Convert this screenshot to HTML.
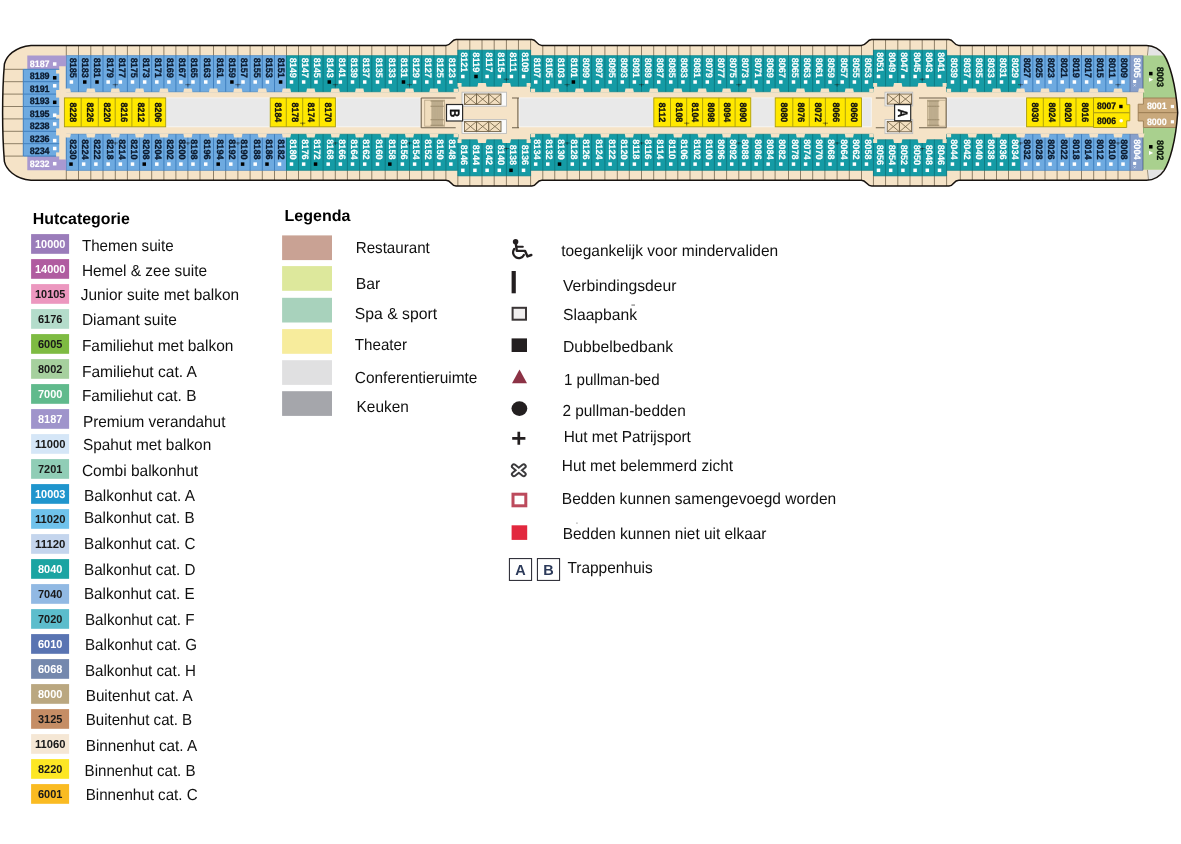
<!DOCTYPE html>
<html lang="nl">
<head>
<meta charset="utf-8">
<title>Dekplan 8 - Hutcategorie en Legenda</title>
<style>
html,body{margin:0;padding:0;background:#FFFFFF;}
body{width:1181px;height:844px;overflow:hidden;font-family:"Liberation Sans", sans-serif;}
svg{display:block;}
text{white-space:pre;text-rendering:geometricPrecision;}
</style>
</head>
<body>
<svg width="1181" height="844" viewBox="0 0 1181 844">
<rect width="1181" height="844" fill="#FFFFFF"/>
<defs><filter id="soft" x="-2%" y="-10%" width="104%" height="120%" color-interpolation-filters="sRGB"><feGaussianBlur stdDeviation="0.45"/></filter></defs>
<g id="deck" filter="url(#soft)">
<defs><clipPath id="hc"><path d="M31,45.4 L446.0,45.4 C451.5,45.4 451.0,39.6 456.0,39.6 L531.9,39.6 C536.9,39.6 536.3,45.4 541.8,45.4 L861.2,45.4 C866.7,45.4 866.7,39.6 871.7,39.6 L949.0,39.6 C954.0,39.6 953.3,45.4 958.8,45.4 L1146.5,45.4 C1154,45.6 1160,49.2 1164,55 C1169.5,63.5 1175.8,84 1177.7,112.7 C1175.8,141.5 1169.5,162 1164,170.6 C1160,176.4 1154,180 1146.5,180.3 L958.8,180.3 C953.3,180.3 954.0,186.1 949.0,186.1 L871.7,186.1 C866.7,186.1 866.7,180.3 861.2,180.3 L541.8,180.3 C536.3,180.3 536.9,186.1 531.9,186.1 L456.0,186.1 C451.0,186.1 451.5,180.3 446.0,180.3 L31,180.3 C14.6,178.9 6.2,169.1 4.4,161.6 C3.2,147 2.6,128 2.6,112.7 C2.6,97 3.2,78 4.4,64 C6.2,56.5 14.6,46.8 31,45.4 Z"/></clipPath></defs>
<g clip-path="url(#hc)">
<path d="M31,45.4 L446.0,45.4 C451.5,45.4 451.0,39.6 456.0,39.6 L531.9,39.6 C536.9,39.6 536.3,45.4 541.8,45.4 L861.2,45.4 C866.7,45.4 866.7,39.6 871.7,39.6 L949.0,39.6 C954.0,39.6 953.3,45.4 958.8,45.4 L1146.5,45.4 C1154,45.6 1160,49.2 1164,55 C1169.5,63.5 1175.8,84 1177.7,112.7 C1175.8,141.5 1169.5,162 1164,170.6 C1160,176.4 1154,180 1146.5,180.3 L958.8,180.3 C953.3,180.3 954.0,186.1 949.0,186.1 L871.7,186.1 C866.7,186.1 866.7,180.3 861.2,180.3 L541.8,180.3 C536.3,180.3 536.9,186.1 531.9,186.1 L456.0,186.1 C451.0,186.1 451.5,180.3 446.0,180.3 L31,180.3 C14.6,178.9 6.2,169.1 4.4,161.6 C3.2,147 2.6,128 2.6,112.7 C2.6,97 3.2,78 4.4,64 C6.2,56.5 14.6,46.8 31,45.4 Z" fill="#F5E3C7"/>
<rect x="1147.5" y="40" width="40" height="16" fill="#E4E4E4"/>
<rect x="1147.5" y="169.6" width="40" height="16" fill="#E4E4E4"/>
<rect x="1143.5" y="55.5" width="40" height="42.5" fill="#A9D08E"/>
<rect x="1143.5" y="127.5" width="40" height="42.2" fill="#A9D08E"/>
<path d="M1143.4,98 H1185 V112.7 H1138.2 V104.2 H1143.4 Z" fill="#C9A97C" stroke="#9A7C52" stroke-width="0.9"/>
<path d="M1138.2,112.7 H1185 V127.5 H1143.4 V121 H1138.2 Z" fill="#C9A97C" stroke="#9A7C52" stroke-width="0.9"/>
<path d="M1143.5,55.5 V98 M1143.5,127.5 V169.7" stroke="#7FA86A" stroke-width="0.8" fill="none"/>
<path d="M1148.6,45 L1147.4,55.5 M1148.6,180.5 L1147.4,169.9" stroke="#8E7F66" stroke-width="0.8" fill="none"/>
<path d="M66.30,45.4 V55.9 M66.30,170.1 V180.3 M78.50,45.4 V55.9 M78.50,170.1 V180.3 M90.80,45.4 V55.9 M90.80,170.1 V180.3 M103.00,45.4 V55.9 M103.00,170.1 V180.3 M115.30,45.4 V55.9 M115.30,170.1 V180.3 M127.40,45.4 V55.9 M127.40,170.1 V180.3 M139.60,45.4 V55.9 M139.60,170.1 V180.3 M151.70,45.4 V55.9 M151.70,170.1 V180.3 M163.90,45.4 V55.9 M163.90,170.1 V180.3 M175.90,45.4 V55.9 M175.90,170.1 V180.3 M187.90,45.4 V55.9 M187.90,170.1 V180.3 M200.00,45.4 V55.9 M200.00,170.1 V180.3 M213.50,45.4 V55.9 M213.50,170.1 V180.3 M225.70,45.4 V55.9 M225.70,170.1 V180.3 M237.90,45.4 V55.9 M237.90,170.1 V180.3 M250.10,45.4 V55.9 M250.10,170.1 V180.3 M262.30,45.4 V55.9 M262.30,170.1 V180.3 M274.50,45.4 V55.9 M274.50,170.1 V180.3 M286.50,45.4 V55.9 M286.50,170.1 V180.3 M298.50,45.4 V55.9 M298.50,170.1 V180.3 M310.80,45.4 V55.9 M310.80,170.1 V180.3 M323.10,45.4 V55.9 M323.10,170.1 V180.3 M335.30,45.4 V55.9 M335.30,170.1 V180.3 M347.40,45.4 V55.9 M347.40,170.1 V180.3 M359.60,45.4 V55.9 M359.60,170.1 V180.3 M371.80,45.4 V55.9 M371.80,170.1 V180.3 M385.20,45.4 V55.9 M385.20,170.1 V180.3 M397.25,45.4 V55.9 M397.25,170.1 V180.3 M409.50,45.4 V55.9 M409.50,170.1 V180.3 M421.70,45.4 V55.9 M421.70,170.1 V180.3 M433.90,45.4 V55.9 M433.90,170.1 V180.3 M445.90,45.4 V55.9 M445.90,170.1 V180.3 M457.85,39.6 V50.4 M457.85,175.6 V186.1 M469.80,39.6 V50.4 M469.80,175.6 V186.1 M482.00,39.6 V50.4 M482.00,175.6 V186.1 M494.20,39.6 V50.4 M494.20,175.6 V186.1 M506.40,39.6 V50.4 M506.40,175.6 V186.1 M518.45,39.6 V50.4 M518.45,175.6 V186.1 M530.60,39.6 V50.4 M530.60,175.6 V186.1 M542.80,45.4 V55.9 M542.80,170.1 V180.3 M554.75,45.4 V55.9 M554.75,170.1 V180.3 M567.10,45.4 V55.9 M567.10,170.1 V180.3 M579.50,45.4 V55.9 M579.50,170.1 V180.3 M591.70,45.4 V55.9 M591.70,170.1 V180.3 M604.90,45.4 V55.9 M604.90,170.1 V180.3 M617.30,45.4 V55.9 M617.30,170.1 V180.3 M629.30,45.4 V55.9 M629.30,170.1 V180.3 M641.50,45.4 V55.9 M641.50,170.1 V180.3 M653.70,45.4 V55.9 M653.70,170.1 V180.3 M665.75,45.4 V55.9 M665.75,170.1 V180.3 M677.80,45.4 V55.9 M677.80,170.1 V180.3 M690.00,45.4 V55.9 M690.00,170.1 V180.3 M702.20,45.4 V55.9 M702.20,170.1 V180.3 M714.40,45.4 V55.9 M714.40,170.1 V180.3 M726.60,45.4 V55.9 M726.60,170.1 V180.3 M738.80,45.4 V55.9 M738.80,170.1 V180.3 M751.00,45.4 V55.9 M751.00,170.1 V180.3 M763.20,45.4 V55.9 M763.20,170.1 V180.3 M775.10,45.4 V55.9 M775.10,170.1 V180.3 M788.50,45.4 V55.9 M788.50,170.1 V180.3 M800.50,45.4 V55.9 M800.50,170.1 V180.3 M812.70,45.4 V55.9 M812.70,170.1 V180.3 M824.90,45.4 V55.9 M824.90,170.1 V180.3 M837.10,45.4 V55.9 M837.10,170.1 V180.3 M849.30,45.4 V55.9 M849.30,170.1 V180.3 M861.50,45.4 V55.9 M861.50,170.1 V180.3 M873.45,39.6 V50.4 M873.45,175.6 V186.1 M885.55,39.6 V50.4 M885.55,175.6 V186.1 M897.80,39.6 V50.4 M897.80,175.6 V186.1 M910.00,39.6 V50.4 M910.00,175.6 V186.1 M922.20,39.6 V50.4 M922.20,175.6 V186.1 M934.40,39.6 V50.4 M934.40,175.6 V186.1 M946.60,39.6 V50.4 M946.60,175.6 V186.1 M960.30,45.4 V55.9 M960.30,170.1 V180.3 M972.30,45.4 V55.9 M972.30,170.1 V180.3 M984.50,45.4 V55.9 M984.50,170.1 V180.3 M996.50,45.4 V55.9 M996.50,170.1 V180.3 M1008.50,45.4 V55.9 M1008.50,170.1 V180.3 M1020.60,45.4 V55.9 M1020.60,170.1 V180.3 M1032.80,45.4 V55.9 M1032.80,170.1 V180.3 M1045.00,45.4 V55.9 M1045.00,170.1 V180.3 M1057.10,45.4 V55.9 M1057.10,170.1 V180.3 M1069.30,45.4 V55.9 M1069.30,170.1 V180.3 M1081.50,45.4 V55.9 M1081.50,170.1 V180.3 M1093.70,45.4 V55.9 M1093.70,170.1 V180.3 M1105.80,45.4 V55.9 M1105.80,170.1 V180.3 M1118.00,45.4 V55.9 M1118.00,170.1 V180.3 M1130.00,45.4 V55.9 M1130.00,170.1 V180.3" stroke="#8E7F66" stroke-width="1" fill="none"/>
<path d="M2,69.3 H23.3 M2,81.7 H23.3 M2,94.1 H23.3 M2,106.5 H23.3 M2,118.9 H23.3 M2,131.3 H23.3 M2,143.7 H23.3 M2,156.1 H23.3" stroke="#8E7F66" stroke-width="1" fill="none"/>
<rect x="66.30" y="55.6" width="220.20" height="36.2" fill="#6EAAE0"/>
<rect x="286.50" y="55.6" width="171.35" height="36.2" fill="#159BA5"/>
<rect x="457.85" y="50.1" width="72.75" height="36.2" fill="#159BA5"/>
<rect x="530.60" y="55.6" width="342.85" height="36.2" fill="#159BA5"/>
<rect x="873.45" y="50.1" width="73.15" height="36.2" fill="#159BA5"/>
<rect x="946.60" y="55.6" width="74.00" height="36.2" fill="#159BA5"/>
<rect x="1020.60" y="55.6" width="109.40" height="36.2" fill="#6EAAE0"/>
<rect x="1130.00" y="55.6" width="12.70" height="36.2" fill="#879FCB"/>
<rect x="66.30" y="134.2" width="220.20" height="36.2" fill="#6EAAE0"/>
<rect x="286.50" y="134.2" width="171.35" height="36.2" fill="#159BA5"/>
<rect x="457.85" y="139.7" width="72.75" height="36.2" fill="#159BA5"/>
<rect x="530.60" y="134.2" width="342.85" height="36.2" fill="#159BA5"/>
<rect x="873.45" y="139.7" width="73.15" height="36.2" fill="#159BA5"/>
<rect x="946.60" y="134.2" width="74.00" height="36.2" fill="#159BA5"/>
<rect x="1020.60" y="134.2" width="109.40" height="36.2" fill="#6EAAE0"/>
<rect x="1130.00" y="134.2" width="12.70" height="36.2" fill="#879FCB"/>
<path d="M66.30,55.6 V91.8 M66.30,134.2 V170.4 M78.50,55.6 V91.8 M78.50,134.2 V170.4 M90.80,55.6 V91.8 M90.80,134.2 V170.4 M103.00,55.6 V91.8 M103.00,134.2 V170.4 M115.30,55.6 V91.8 M115.30,134.2 V170.4 M127.40,55.6 V91.8 M127.40,134.2 V170.4 M139.60,55.6 V91.8 M139.60,134.2 V170.4 M151.70,55.6 V91.8 M151.70,134.2 V170.4 M163.90,55.6 V91.8 M163.90,134.2 V170.4 M175.90,55.6 V91.8 M175.90,134.2 V170.4 M187.90,55.6 V91.8 M187.90,134.2 V170.4 M200.00,55.6 V91.8 M200.00,134.2 V170.4 M213.50,55.6 V91.8 M213.50,134.2 V170.4 M225.70,55.6 V91.8 M225.70,134.2 V170.4 M237.90,55.6 V91.8 M237.90,134.2 V170.4 M250.10,55.6 V91.8 M250.10,134.2 V170.4 M262.30,55.6 V91.8 M262.30,134.2 V170.4 M274.50,55.6 V91.8 M274.50,134.2 V170.4 M1020.60,55.6 V91.8 M1020.60,134.2 V170.4 M1032.80,55.6 V91.8 M1032.80,134.2 V170.4 M1045.00,55.6 V91.8 M1045.00,134.2 V170.4 M1057.10,55.6 V91.8 M1057.10,134.2 V170.4 M1069.30,55.6 V91.8 M1069.30,134.2 V170.4 M1081.50,55.6 V91.8 M1081.50,134.2 V170.4 M1093.70,55.6 V91.8 M1093.70,134.2 V170.4 M1105.80,55.6 V91.8 M1105.80,134.2 V170.4 M1118.00,55.6 V91.8 M1118.00,134.2 V170.4" stroke="#3F7FBE" stroke-width="1" fill="none"/>
<path d="M286.50,55.6 V91.8 M286.50,134.2 V170.4 M298.50,55.6 V91.8 M298.50,134.2 V170.4 M310.80,55.6 V91.8 M310.80,134.2 V170.4 M323.10,55.6 V91.8 M323.10,134.2 V170.4 M335.30,55.6 V91.8 M335.30,134.2 V170.4 M347.40,55.6 V91.8 M347.40,134.2 V170.4 M359.60,55.6 V91.8 M359.60,134.2 V170.4 M371.80,55.6 V91.8 M371.80,134.2 V170.4 M385.20,55.6 V91.8 M385.20,134.2 V170.4 M397.25,55.6 V91.8 M397.25,134.2 V170.4 M409.50,55.6 V91.8 M409.50,134.2 V170.4 M421.70,55.6 V91.8 M421.70,134.2 V170.4 M433.90,55.6 V91.8 M433.90,134.2 V170.4 M445.90,55.6 V91.8 M445.90,134.2 V170.4 M457.85,50.1 V91.8 M457.85,134.2 V175.9 M469.80,50.1 V86.3 M469.80,139.7 V175.9 M482.00,50.1 V86.3 M482.00,139.7 V175.9 M494.20,50.1 V86.3 M494.20,139.7 V175.9 M506.40,50.1 V86.3 M506.40,139.7 V175.9 M518.45,50.1 V86.3 M518.45,139.7 V175.9 M530.60,50.1 V91.8 M530.60,134.2 V175.9 M542.80,55.6 V91.8 M542.80,134.2 V170.4 M554.75,55.6 V91.8 M554.75,134.2 V170.4 M567.10,55.6 V91.8 M567.10,134.2 V170.4 M579.50,55.6 V91.8 M579.50,134.2 V170.4 M591.70,55.6 V91.8 M591.70,134.2 V170.4 M604.90,55.6 V91.8 M604.90,134.2 V170.4 M617.30,55.6 V91.8 M617.30,134.2 V170.4 M629.30,55.6 V91.8 M629.30,134.2 V170.4 M641.50,55.6 V91.8 M641.50,134.2 V170.4 M653.70,55.6 V91.8 M653.70,134.2 V170.4 M665.75,55.6 V91.8 M665.75,134.2 V170.4 M677.80,55.6 V91.8 M677.80,134.2 V170.4 M690.00,55.6 V91.8 M690.00,134.2 V170.4 M702.20,55.6 V91.8 M702.20,134.2 V170.4 M714.40,55.6 V91.8 M714.40,134.2 V170.4 M726.60,55.6 V91.8 M726.60,134.2 V170.4 M738.80,55.6 V91.8 M738.80,134.2 V170.4 M751.00,55.6 V91.8 M751.00,134.2 V170.4 M763.20,55.6 V91.8 M763.20,134.2 V170.4 M775.10,55.6 V91.8 M775.10,134.2 V170.4 M788.50,55.6 V91.8 M788.50,134.2 V170.4 M800.50,55.6 V91.8 M800.50,134.2 V170.4 M812.70,55.6 V91.8 M812.70,134.2 V170.4 M824.90,55.6 V91.8 M824.90,134.2 V170.4 M837.10,55.6 V91.8 M837.10,134.2 V170.4 M849.30,55.6 V91.8 M849.30,134.2 V170.4 M861.50,55.6 V91.8 M861.50,134.2 V170.4 M873.45,50.1 V91.8 M873.45,134.2 V175.9 M885.55,50.1 V86.3 M885.55,139.7 V175.9 M897.80,50.1 V86.3 M897.80,139.7 V175.9 M910.00,50.1 V86.3 M910.00,139.7 V175.9 M922.20,50.1 V86.3 M922.20,139.7 V175.9 M934.40,50.1 V86.3 M934.40,139.7 V175.9 M946.60,50.1 V91.8 M946.60,134.2 V175.9 M960.30,55.6 V91.8 M960.30,134.2 V170.4 M972.30,55.6 V91.8 M972.30,134.2 V170.4 M984.50,55.6 V91.8 M984.50,134.2 V170.4 M996.50,55.6 V91.8 M996.50,134.2 V170.4 M1008.50,55.6 V91.8 M1008.50,134.2 V170.4" stroke="#0E7C84" stroke-width="1" fill="none"/>
<path d="M1130.00,55.6 V91.8 M1130.00,134.2 V170.4 M1142.70,55.6 V91.8 M1142.70,134.2 V170.4" stroke="#5F78A8" stroke-width="1" fill="none"/>
<path d="M66.30,55.6 H286.50 M66.30,91.8 H286.50" stroke="#3F7FBE" stroke-width="0.8" fill="none" opacity="0.75"/>
<path d="M286.50,55.6 H457.85 M286.50,91.8 H457.85" stroke="#0E7C84" stroke-width="0.8" fill="none" opacity="0.75"/>
<path d="M457.85,50.1 H530.60 M457.85,86.3 H530.60" stroke="#0E7C84" stroke-width="0.8" fill="none" opacity="0.75"/>
<path d="M530.60,55.6 H873.45 M530.60,91.8 H873.45" stroke="#0E7C84" stroke-width="0.8" fill="none" opacity="0.75"/>
<path d="M873.45,50.1 H946.60 M873.45,86.3 H946.60" stroke="#0E7C84" stroke-width="0.8" fill="none" opacity="0.75"/>
<path d="M946.60,55.6 H1020.60 M946.60,91.8 H1020.60" stroke="#0E7C84" stroke-width="0.8" fill="none" opacity="0.75"/>
<path d="M1020.60,55.6 H1130.00 M1020.60,91.8 H1130.00" stroke="#3F7FBE" stroke-width="0.8" fill="none" opacity="0.75"/>
<path d="M1130.00,55.6 H1142.70 M1130.00,91.8 H1142.70" stroke="#5F78A8" stroke-width="0.8" fill="none" opacity="0.75"/>
<path d="M66.30,134.2 H286.50 M66.30,170.4 H286.50" stroke="#3F7FBE" stroke-width="0.8" fill="none" opacity="0.75"/>
<path d="M286.50,134.2 H457.85 M286.50,170.4 H457.85" stroke="#0E7C84" stroke-width="0.8" fill="none" opacity="0.75"/>
<path d="M457.85,139.7 H530.60 M457.85,175.9 H530.60" stroke="#0E7C84" stroke-width="0.8" fill="none" opacity="0.75"/>
<path d="M530.60,134.2 H873.45 M530.60,170.4 H873.45" stroke="#0E7C84" stroke-width="0.8" fill="none" opacity="0.75"/>
<path d="M873.45,139.7 H946.60 M873.45,175.9 H946.60" stroke="#0E7C84" stroke-width="0.8" fill="none" opacity="0.75"/>
<path d="M946.60,134.2 H1020.60 M946.60,170.4 H1020.60" stroke="#0E7C84" stroke-width="0.8" fill="none" opacity="0.75"/>
<path d="M1020.60,134.2 H1130.00 M1020.60,170.4 H1130.00" stroke="#3F7FBE" stroke-width="0.8" fill="none" opacity="0.75"/>
<path d="M1130.00,134.2 H1142.70 M1130.00,170.4 H1142.70" stroke="#5F78A8" stroke-width="0.8" fill="none" opacity="0.75"/>
<path d="M64.50,92.4 L65.30,88.5 H70.10 L70.90,92.4 Z" fill="#F5E3C7"/>
<path d="M64.50,133.6 L65.30,137.5 H70.10 L70.90,133.6 Z" fill="#F5E3C7"/>
<path d="M86.20,92.4 L87.00,88.5 H94.60 L95.40,92.4 Z" fill="#F5E3C7"/>
<path d="M86.20,133.6 L87.00,137.5 H94.60 L95.40,133.6 Z" fill="#F5E3C7"/>
<path d="M110.70,92.4 L111.50,88.5 H119.10 L119.90,92.4 Z" fill="#F5E3C7"/>
<path d="M110.70,133.6 L111.50,137.5 H119.10 L119.90,133.6 Z" fill="#F5E3C7"/>
<path d="M135.00,92.4 L135.80,88.5 H143.40 L144.20,92.4 Z" fill="#F5E3C7"/>
<path d="M135.00,133.6 L135.80,137.5 H143.40 L144.20,133.6 Z" fill="#F5E3C7"/>
<path d="M159.30,92.4 L160.10,88.5 H167.70 L168.50,92.4 Z" fill="#F5E3C7"/>
<path d="M159.30,133.6 L160.10,137.5 H167.70 L168.50,133.6 Z" fill="#F5E3C7"/>
<path d="M183.30,92.4 L184.10,88.5 H191.70 L192.50,92.4 Z" fill="#F5E3C7"/>
<path d="M183.30,133.6 L184.10,137.5 H191.70 L192.50,133.6 Z" fill="#F5E3C7"/>
<path d="M208.90,92.4 L209.70,88.5 H217.30 L218.10,92.4 Z" fill="#F5E3C7"/>
<path d="M208.90,133.6 L209.70,137.5 H217.30 L218.10,133.6 Z" fill="#F5E3C7"/>
<path d="M233.30,92.4 L234.10,88.5 H241.70 L242.50,92.4 Z" fill="#F5E3C7"/>
<path d="M233.30,133.6 L234.10,137.5 H241.70 L242.50,133.6 Z" fill="#F5E3C7"/>
<path d="M257.70,92.4 L258.50,88.5 H266.10 L266.90,92.4 Z" fill="#F5E3C7"/>
<path d="M257.70,133.6 L258.50,137.5 H266.10 L266.90,133.6 Z" fill="#F5E3C7"/>
<path d="M281.90,92.4 L282.70,88.5 H290.30 L291.10,92.4 Z" fill="#F5E3C7"/>
<path d="M281.90,133.6 L282.70,137.5 H290.30 L291.10,133.6 Z" fill="#F5E3C7"/>
<path d="M306.20,92.4 L307.00,88.5 H314.60 L315.40,92.4 Z" fill="#F5E3C7"/>
<path d="M306.20,133.6 L307.00,137.5 H314.60 L315.40,133.6 Z" fill="#F5E3C7"/>
<path d="M330.70,92.4 L331.50,88.5 H339.10 L339.90,92.4 Z" fill="#F5E3C7"/>
<path d="M330.70,133.6 L331.50,137.5 H339.10 L339.90,133.6 Z" fill="#F5E3C7"/>
<path d="M355.00,92.4 L355.80,88.5 H363.40 L364.20,92.4 Z" fill="#F5E3C7"/>
<path d="M355.00,133.6 L355.80,137.5 H363.40 L364.20,133.6 Z" fill="#F5E3C7"/>
<path d="M380.60,92.4 L381.40,88.5 H389.00 L389.80,92.4 Z" fill="#F5E3C7"/>
<path d="M380.60,133.6 L381.40,137.5 H389.00 L389.80,133.6 Z" fill="#F5E3C7"/>
<path d="M404.90,92.4 L405.70,88.5 H413.30 L414.10,92.4 Z" fill="#F5E3C7"/>
<path d="M404.90,133.6 L405.70,137.5 H413.30 L414.10,133.6 Z" fill="#F5E3C7"/>
<path d="M429.30,92.4 L430.10,88.5 H437.70 L438.50,92.4 Z" fill="#F5E3C7"/>
<path d="M429.30,133.6 L430.10,137.5 H437.70 L438.50,133.6 Z" fill="#F5E3C7"/>
<rect x="453.65" y="88.7" width="4.50" height="3.6" fill="#F5E3C7"/>
<rect x="457.55" y="83.0" width="4.00" height="3.9" fill="#F5E3C7"/>
<rect x="453.65" y="133.7" width="4.50" height="3.6" fill="#F5E3C7"/>
<rect x="457.55" y="139.1" width="4.00" height="3.9" fill="#F5E3C7"/>
<path d="M477.40,86.9 L478.20,83.0 H485.80 L486.60,86.9 Z" fill="#F5E3C7"/>
<path d="M477.40,139.1 L478.20,143.0 H485.80 L486.60,139.1 Z" fill="#F5E3C7"/>
<path d="M501.80,86.9 L502.60,83.0 H510.20 L511.00,86.9 Z" fill="#F5E3C7"/>
<path d="M501.80,139.1 L502.60,143.0 H510.20 L511.00,139.1 Z" fill="#F5E3C7"/>
<rect x="530.60" y="88.7" width="4.50" height="3.6" fill="#F5E3C7"/>
<rect x="526.60" y="83.0" width="4.00" height="3.9" fill="#F5E3C7"/>
<rect x="530.60" y="133.7" width="4.50" height="3.6" fill="#F5E3C7"/>
<rect x="526.60" y="139.1" width="4.00" height="3.9" fill="#F5E3C7"/>
<path d="M550.15,92.4 L550.95,88.5 H558.55 L559.35,92.4 Z" fill="#F5E3C7"/>
<path d="M550.15,133.6 L550.95,137.5 H558.55 L559.35,133.6 Z" fill="#F5E3C7"/>
<path d="M574.90,92.4 L575.70,88.5 H583.30 L584.10,92.4 Z" fill="#F5E3C7"/>
<path d="M574.90,133.6 L575.70,137.5 H583.30 L584.10,133.6 Z" fill="#F5E3C7"/>
<path d="M600.30,92.4 L601.10,88.5 H608.70 L609.50,92.4 Z" fill="#F5E3C7"/>
<path d="M600.30,133.6 L601.10,137.5 H608.70 L609.50,133.6 Z" fill="#F5E3C7"/>
<path d="M624.70,92.4 L625.50,88.5 H633.10 L633.90,92.4 Z" fill="#F5E3C7"/>
<path d="M624.70,133.6 L625.50,137.5 H633.10 L633.90,133.6 Z" fill="#F5E3C7"/>
<path d="M649.10,92.4 L649.90,88.5 H657.50 L658.30,92.4 Z" fill="#F5E3C7"/>
<path d="M649.10,133.6 L649.90,137.5 H657.50 L658.30,133.6 Z" fill="#F5E3C7"/>
<path d="M673.20,92.4 L674.00,88.5 H681.60 L682.40,92.4 Z" fill="#F5E3C7"/>
<path d="M673.20,133.6 L674.00,137.5 H681.60 L682.40,133.6 Z" fill="#F5E3C7"/>
<path d="M697.60,92.4 L698.40,88.5 H706.00 L706.80,92.4 Z" fill="#F5E3C7"/>
<path d="M697.60,133.6 L698.40,137.5 H706.00 L706.80,133.6 Z" fill="#F5E3C7"/>
<path d="M722.00,92.4 L722.80,88.5 H730.40 L731.20,92.4 Z" fill="#F5E3C7"/>
<path d="M722.00,133.6 L722.80,137.5 H730.40 L731.20,133.6 Z" fill="#F5E3C7"/>
<path d="M746.40,92.4 L747.20,88.5 H754.80 L755.60,92.4 Z" fill="#F5E3C7"/>
<path d="M746.40,133.6 L747.20,137.5 H754.80 L755.60,133.6 Z" fill="#F5E3C7"/>
<path d="M770.50,92.4 L771.30,88.5 H778.90 L779.70,92.4 Z" fill="#F5E3C7"/>
<path d="M770.50,133.6 L771.30,137.5 H778.90 L779.70,133.6 Z" fill="#F5E3C7"/>
<path d="M795.90,92.4 L796.70,88.5 H804.30 L805.10,92.4 Z" fill="#F5E3C7"/>
<path d="M795.90,133.6 L796.70,137.5 H804.30 L805.10,133.6 Z" fill="#F5E3C7"/>
<path d="M820.30,92.4 L821.10,88.5 H828.70 L829.50,92.4 Z" fill="#F5E3C7"/>
<path d="M820.30,133.6 L821.10,137.5 H828.70 L829.50,133.6 Z" fill="#F5E3C7"/>
<path d="M844.70,92.4 L845.50,88.5 H853.10 L853.90,92.4 Z" fill="#F5E3C7"/>
<path d="M844.70,133.6 L845.50,137.5 H853.10 L853.90,133.6 Z" fill="#F5E3C7"/>
<rect x="869.25" y="88.7" width="4.50" height="3.6" fill="#F5E3C7"/>
<rect x="873.15" y="83.0" width="4.00" height="3.9" fill="#F5E3C7"/>
<rect x="869.25" y="133.7" width="4.50" height="3.6" fill="#F5E3C7"/>
<rect x="873.15" y="139.1" width="4.00" height="3.9" fill="#F5E3C7"/>
<path d="M893.20,86.9 L894.00,83.0 H901.60 L902.40,86.9 Z" fill="#F5E3C7"/>
<path d="M893.20,139.1 L894.00,143.0 H901.60 L902.40,139.1 Z" fill="#F5E3C7"/>
<path d="M917.60,86.9 L918.40,83.0 H926.00 L926.80,86.9 Z" fill="#F5E3C7"/>
<path d="M917.60,139.1 L918.40,143.0 H926.00 L926.80,139.1 Z" fill="#F5E3C7"/>
<rect x="946.60" y="88.7" width="4.50" height="3.6" fill="#F5E3C7"/>
<rect x="942.60" y="83.0" width="4.00" height="3.9" fill="#F5E3C7"/>
<rect x="946.60" y="133.7" width="4.50" height="3.6" fill="#F5E3C7"/>
<rect x="942.60" y="139.1" width="4.00" height="3.9" fill="#F5E3C7"/>
<path d="M967.70,92.4 L968.50,88.5 H976.10 L976.90,92.4 Z" fill="#F5E3C7"/>
<path d="M967.70,133.6 L968.50,137.5 H976.10 L976.90,133.6 Z" fill="#F5E3C7"/>
<path d="M991.90,92.4 L992.70,88.5 H1000.30 L1001.10,92.4 Z" fill="#F5E3C7"/>
<path d="M991.90,133.6 L992.70,137.5 H1000.30 L1001.10,133.6 Z" fill="#F5E3C7"/>
<path d="M1016.00,92.4 L1016.80,88.5 H1024.40 L1025.20,92.4 Z" fill="#F5E3C7"/>
<path d="M1016.00,133.6 L1016.80,137.5 H1024.40 L1025.20,133.6 Z" fill="#F5E3C7"/>
<path d="M1040.40,92.4 L1041.20,88.5 H1048.80 L1049.60,92.4 Z" fill="#F5E3C7"/>
<path d="M1040.40,133.6 L1041.20,137.5 H1048.80 L1049.60,133.6 Z" fill="#F5E3C7"/>
<path d="M1064.70,92.4 L1065.50,88.5 H1073.10 L1073.90,92.4 Z" fill="#F5E3C7"/>
<path d="M1064.70,133.6 L1065.50,137.5 H1073.10 L1073.90,133.6 Z" fill="#F5E3C7"/>
<path d="M1089.10,92.4 L1089.90,88.5 H1097.50 L1098.30,92.4 Z" fill="#F5E3C7"/>
<path d="M1089.10,133.6 L1089.90,137.5 H1097.50 L1098.30,133.6 Z" fill="#F5E3C7"/>
<path d="M1113.40,92.4 L1114.20,88.5 H1121.80 L1122.60,92.4 Z" fill="#F5E3C7"/>
<path d="M1113.40,133.6 L1114.20,137.5 H1121.80 L1122.60,133.6 Z" fill="#F5E3C7"/>
<path d="M1138.10,92.4 L1138.90,88.5 H1143.70 L1144.50,92.4 Z" fill="#F5E3C7"/>
<path d="M1138.10,133.6 L1138.90,137.5 H1143.70 L1144.50,133.6 Z" fill="#F5E3C7"/>
<path d="M27.3,55.5 H66.3 V66.2 H59.2 V69.3 H27.3 Z" fill="#A999D0"/>
<path d="M27.3,156.1 H59.2 V159.4 H66.3 V170.2 H27.3 Z" fill="#A999D0"/>
<rect x="23.3" y="69.3" width="35.9" height="86.8" fill="#6EAAE0"/>
<path d="M23.3,69.3 H59.2 M23.3,81.7 H59.2 M23.3,94.1 H59.2 M23.3,106.5 H59.2 M23.3,118.9 H59.2 M23.3,131.3 H59.2 M23.3,143.7 H59.2 M23.3,156.1 H59.2 M23.3,69.3 V156.1" stroke="#3F7FBE" stroke-width="1" fill="none"/>
<rect x="56.1" y="69.9" width="4" height="3.7" fill="#F5E3C7"/>
<rect x="56.1" y="90.0" width="4" height="7.6" fill="#F5E3C7"/>
<rect x="56.1" y="114.8" width="4" height="3.8" fill="#F5E3C7"/>
<rect x="56.1" y="128.4" width="4" height="7.0" fill="#F5E3C7"/>
<rect x="56.1" y="152.4" width="4" height="4.2" fill="#F5E3C7"/>
<rect x="165.8" y="97.9" width="104.2" height="28.9" fill="#E9E9E9" stroke="#F8F8F8" stroke-width="0.8"/>
<rect x="335.8" y="97.9" width="84.5" height="28.9" fill="#E9E9E9" stroke="#F8F8F8" stroke-width="0.8"/>
<rect x="519.0" y="97.9" width="134.4" height="28.9" fill="#E9E9E9" stroke="#F8F8F8" stroke-width="0.8"/>
<rect x="751.2" y="97.9" width="23.7" height="28.9" fill="#E9E9E9" stroke="#F8F8F8" stroke-width="0.8"/>
<rect x="861.8" y="97.9" width="9.5" height="28.9" fill="#E9E9E9" stroke="#F8F8F8" stroke-width="0.8"/>
<rect x="946.9" y="97.9" width="79.3" height="28.9" fill="#E9E9E9" stroke="#F8F8F8" stroke-width="0.8"/>
<rect x="64.4" y="97.9" width="101.3" height="28.9" fill="#FFE800" stroke="#A89A10" stroke-width="0.9"/>
<path d="M81.2,97.9 V126.8 M98.3,97.9 V126.8 M115.2,97.9 V126.8 M131.9,97.9 V126.8 M149.0,97.9 V126.8" stroke="#A89A10" stroke-width="0.9" fill="none"/>
<rect x="270.2" y="97.9" width="65.2" height="28.9" fill="#FFE800" stroke="#A89A10" stroke-width="0.9"/>
<path d="M286.3,97.9 V126.8 M302.7,97.9 V126.8 M319.3,97.9 V126.8" stroke="#A89A10" stroke-width="0.9" fill="none"/>
<rect x="653.8" y="97.9" width="97.0" height="28.9" fill="#FFE800" stroke="#A89A10" stroke-width="0.9"/>
<path d="M670.5,97.9 V126.8 M686.7,97.9 V126.8 M702.6,97.9 V126.8 M718.9,97.9 V126.8 M735.1,97.9 V126.8" stroke="#A89A10" stroke-width="0.9" fill="none"/>
<rect x="775.2" y="97.9" width="86.3" height="28.9" fill="#FFE800" stroke="#A89A10" stroke-width="0.9"/>
<path d="M792.8,97.9 V126.8 M809.3,97.9 V126.8 M825.4,97.9 V126.8 M845.3,97.9 V126.8" stroke="#A89A10" stroke-width="0.9" fill="none"/>
<rect x="1026.6" y="97.9" width="66.9" height="28.9" fill="#FFE800" stroke="#A89A10" stroke-width="0.9"/>
<path d="M1043.3,97.9 V126.8 M1059.8,97.9 V126.8 M1076.0,97.9 V126.8" stroke="#A89A10" stroke-width="0.9" fill="none"/>
<path d="M1093.5,97.7 H1126.7 V104.7 H1129.8 V112.8 H1093.5 Z" fill="#FFE800" stroke="#A89A10" stroke-width="0.9"/>
<path d="M1093.5,112.8 H1129.8 V120.8 H1126.7 V127.5 H1093.5 Z" fill="#FFE800" stroke="#A89A10" stroke-width="0.9"/>
<path d="M421.2,98 V127.7 M421.2,98 H455.7 M421.2,127.7 H455.7 M517.9,98 V127.7 M512,98 H519 M512,127.7 H519" stroke="#6E614C" stroke-width="1.1" fill="none"/>
<rect x="424.7" y="100.2" width="19.9" height="26" fill="#F0DDBD" stroke="#B7A585" stroke-width="0.8"/>
<rect x="431.3" y="100.2" width="11.7" height="26" fill="#BFAE8F"/>
<path d="M430.5,106.3 H443.8 M430.5,119.7 H443.8 M430.5,125.3 H443.8 M430.5,101 H443.8" stroke="#9C8B6C" stroke-width="1.1" fill="none"/>
<path d="M432.5,100.6 V125.8 M434.2,100.6 V125.8 M435.9,100.6 V125.8 M437.6,100.6 V125.8 M439.3,100.6 V125.8 M441.0,100.6 V125.8 M442.7,100.6 V125.8" stroke="#B5A485" stroke-width="0.4" fill="none" opacity="0.5"/>
<rect x="462.0" y="92.2" width="44.5" height="14.0" fill="#FBFBFB" stroke="#BDBDBD" stroke-width="0.9"/>
<rect x="464.4" y="94.0" width="12.2" height="10.4" fill="#F3DFC0" stroke="#6F5F44" stroke-width="0.9"/>
<path d="M464.4,94.0 L476.6,104.4 M476.6,94.0 L464.4,104.4" stroke="#6F5F44" stroke-width="0.8" fill="none"/>
<rect x="476.6" y="94.0" width="12.2" height="10.4" fill="#F3DFC0" stroke="#6F5F44" stroke-width="0.9"/>
<path d="M476.6,94.0 L488.8,104.4 M488.8,94.0 L476.6,104.4" stroke="#6F5F44" stroke-width="0.8" fill="none"/>
<rect x="488.8" y="94.0" width="12.2" height="10.4" fill="#F3DFC0" stroke="#6F5F44" stroke-width="0.9"/>
<path d="M488.8,94.0 L501.0,104.4 M501.0,94.0 L488.8,104.4" stroke="#6F5F44" stroke-width="0.8" fill="none"/>
<rect x="462.0" y="119.6" width="44.5" height="13.8" fill="#FBFBFB" stroke="#BDBDBD" stroke-width="0.9"/>
<rect x="464.4" y="121.4" width="12.2" height="10.2" fill="#F3DFC0" stroke="#6F5F44" stroke-width="0.9"/>
<path d="M464.4,121.4 L476.6,131.6 M476.6,121.4 L464.4,131.6" stroke="#6F5F44" stroke-width="0.8" fill="none"/>
<rect x="476.6" y="121.4" width="12.2" height="10.2" fill="#F3DFC0" stroke="#6F5F44" stroke-width="0.9"/>
<path d="M476.6,121.4 L488.8,131.6 M488.8,121.4 L476.6,131.6" stroke="#6F5F44" stroke-width="0.8" fill="none"/>
<rect x="488.8" y="121.4" width="12.2" height="10.2" fill="#F3DFC0" stroke="#6F5F44" stroke-width="0.9"/>
<path d="M488.8,121.4 L501.0,131.6 M501.0,121.4 L488.8,131.6" stroke="#6F5F44" stroke-width="0.8" fill="none"/>
<path d="M875.8,98 H885.5 M875.8,127.7 H885.5 M919,98 H946.5 M919,127.7 H946.5 M946.2,98 V127.7" stroke="#6E614C" stroke-width="1.1" fill="none"/>
<rect x="927.4" y="100.2" width="18.0" height="26" fill="#F0DDBD" stroke="#B7A585" stroke-width="0.8"/>
<rect x="928.4" y="100.2" width="10.1" height="26" fill="#BFAE8F"/>
<path d="M927.6,106.3 H939.3 M927.6,119.7 H939.3 M927.6,125.3 H939.3 M927.6,101 H939.3" stroke="#9C8B6C" stroke-width="1.1" fill="none"/>
<path d="M929.6,100.6 V125.8 M931.3,100.6 V125.8 M933.0,100.6 V125.8 M934.7,100.6 V125.8 M936.4,100.6 V125.8 M938.1,100.6 V125.8" stroke="#B5A485" stroke-width="0.4" fill="none" opacity="0.5"/>
<rect x="885.0" y="92.2" width="27.7" height="13.7" fill="#FBFBFB" stroke="#BDBDBD" stroke-width="0.9"/>
<rect x="887.2" y="94.0" width="12.2" height="10.1" fill="#F3DFC0" stroke="#6F5F44" stroke-width="0.9"/>
<path d="M887.2,94.0 L899.4,104.1 M899.4,94.0 L887.2,104.1" stroke="#6F5F44" stroke-width="0.8" fill="none"/>
<rect x="899.4" y="94.0" width="12.2" height="10.1" fill="#F3DFC0" stroke="#6F5F44" stroke-width="0.9"/>
<path d="M899.4,94.0 L911.6,104.1 M911.6,94.0 L899.4,104.1" stroke="#6F5F44" stroke-width="0.8" fill="none"/>
<rect x="885.0" y="119.6" width="27.7" height="14.0" fill="#FBFBFB" stroke="#BDBDBD" stroke-width="0.9"/>
<rect x="887.2" y="121.4" width="12.2" height="10.4" fill="#F3DFC0" stroke="#6F5F44" stroke-width="0.9"/>
<path d="M887.2,121.4 L899.4,131.8 M899.4,121.4 L887.2,131.8" stroke="#6F5F44" stroke-width="0.8" fill="none"/>
<rect x="899.4" y="121.4" width="12.2" height="10.4" fill="#F3DFC0" stroke="#6F5F44" stroke-width="0.9"/>
<path d="M899.4,121.4 L911.6,131.8 M911.6,121.4 L899.4,131.8" stroke="#6F5F44" stroke-width="0.8" fill="none"/>
</g>
<path d="M31,45.4 L446.0,45.4 C451.5,45.4 451.0,39.6 456.0,39.6 L531.9,39.6 C536.9,39.6 536.3,45.4 541.8,45.4 L861.2,45.4 C866.7,45.4 866.7,39.6 871.7,39.6 L949.0,39.6 C954.0,39.6 953.3,45.4 958.8,45.4 L1146.5,45.4 C1154,45.6 1160,49.2 1164,55 C1169.5,63.5 1175.8,84 1177.7,112.7 C1175.8,141.5 1169.5,162 1164,170.6 C1160,176.4 1154,180 1146.5,180.3 L958.8,180.3 C953.3,180.3 954.0,186.1 949.0,186.1 L871.7,186.1 C866.7,186.1 866.7,180.3 861.2,180.3 L541.8,180.3 C536.3,180.3 536.9,186.1 531.9,186.1 L456.0,186.1 C451.0,186.1 451.5,180.3 446.0,180.3 L31,180.3 C14.6,178.9 6.2,169.1 4.4,161.6 C3.2,147 2.6,128 2.6,112.7 C2.6,97 3.2,78 4.4,64 C6.2,56.5 14.6,46.8 31,45.4 Z" fill="none" stroke="#17120E" stroke-width="1.5" stroke-linejoin="round"/>
<rect x="446.5" y="104.5" width="16.1" height="16.5" fill="#FFFFFF" stroke="#2A2A2A" stroke-width="1.2"/>
<text transform="translate(449.9,113.2) rotate(90)" text-anchor="middle" textLength="8.2" lengthAdjust="spacingAndGlyphs" font-family="'Liberation Sans', sans-serif" font-weight="bold" font-size="13.8" fill="#111" stroke="#111" stroke-width="0.3">B</text>
<rect x="894.6" y="104.6" width="16.1" height="16.1" fill="#FFFFFF" stroke="#2A2A2A" stroke-width="1.2"/>
<text transform="translate(898.1,113.1) rotate(90)" text-anchor="middle" textLength="8.2" lengthAdjust="spacingAndGlyphs" font-family="'Liberation Sans', sans-serif" font-weight="bold" font-size="13.8" fill="#111" stroke="#111" stroke-width="0.3">A</text>
<text transform="translate(69.80,67.80) rotate(90)" text-anchor="middle" textLength="20.2" lengthAdjust="spacingAndGlyphs" font-family="'Liberation Sans', sans-serif" font-weight="bold" font-size="9.4" fill="#0B1A2E" stroke="#0B1A2E" stroke-width="0.3">8185</text>
<rect x="69.65" y="80.25" width="3.5" height="3.5" fill="#FFFFFF"/>
<text transform="translate(69.80,149.40) rotate(90)" text-anchor="middle" textLength="20.2" lengthAdjust="spacingAndGlyphs" font-family="'Liberation Sans', sans-serif" font-weight="bold" font-size="9.4" fill="#0B1A2E" stroke="#0B1A2E" stroke-width="0.3">8230</text>
<rect x="69.25" y="162.35" width="3.5" height="3.5" fill="#000000"/>
<text transform="translate(82.05,67.80) rotate(90)" text-anchor="middle" textLength="20.2" lengthAdjust="spacingAndGlyphs" font-family="'Liberation Sans', sans-serif" font-weight="bold" font-size="9.4" fill="#0B1A2E" stroke="#0B1A2E" stroke-width="0.3">8183</text>
<rect x="83.00" y="80.25" width="3.5" height="3.5" fill="#000000"/>
<text transform="translate(82.05,149.40) rotate(90)" text-anchor="middle" textLength="20.2" lengthAdjust="spacingAndGlyphs" font-family="'Liberation Sans', sans-serif" font-weight="bold" font-size="9.4" fill="#0B1A2E" stroke="#0B1A2E" stroke-width="0.3">8224</text>
<rect x="81.90" y="162.35" width="3.5" height="3.5" fill="#FFFFFF"/>
<text transform="translate(94.30,67.80) rotate(90)" text-anchor="middle" textLength="20.2" lengthAdjust="spacingAndGlyphs" font-family="'Liberation Sans', sans-serif" font-weight="bold" font-size="9.4" fill="#0B1A2E" stroke="#0B1A2E" stroke-width="0.3">8181</text>
<rect x="95.25" y="80.25" width="3.5" height="3.5" fill="#000000"/>
<text transform="translate(94.30,149.40) rotate(90)" text-anchor="middle" textLength="20.2" lengthAdjust="spacingAndGlyphs" font-family="'Liberation Sans', sans-serif" font-weight="bold" font-size="9.4" fill="#0B1A2E" stroke="#0B1A2E" stroke-width="0.3">8222</text>
<rect x="94.15" y="162.35" width="3.5" height="3.5" fill="#FFFFFF"/>
<text transform="translate(106.55,67.80) rotate(90)" text-anchor="middle" textLength="20.2" lengthAdjust="spacingAndGlyphs" font-family="'Liberation Sans', sans-serif" font-weight="bold" font-size="9.4" fill="#0B1A2E" stroke="#0B1A2E" stroke-width="0.3">8179</text>
<rect x="106.40" y="80.25" width="3.5" height="3.5" fill="#FFFFFF"/>
<text transform="translate(106.55,149.40) rotate(90)" text-anchor="middle" textLength="20.2" lengthAdjust="spacingAndGlyphs" font-family="'Liberation Sans', sans-serif" font-weight="bold" font-size="9.4" fill="#0B1A2E" stroke="#0B1A2E" stroke-width="0.3">8218</text>
<rect x="106.40" y="162.35" width="3.5" height="3.5" fill="#FFFFFF"/>
<text transform="translate(118.75,67.80) rotate(90)" text-anchor="middle" textLength="20.2" lengthAdjust="spacingAndGlyphs" font-family="'Liberation Sans', sans-serif" font-weight="bold" font-size="9.4" fill="#0B1A2E" stroke="#0B1A2E" stroke-width="0.3">8177</text>
<rect x="118.60" y="80.25" width="3.5" height="3.5" fill="#FFFFFF"/>
<text transform="translate(118.75,149.40) rotate(90)" text-anchor="middle" textLength="20.2" lengthAdjust="spacingAndGlyphs" font-family="'Liberation Sans', sans-serif" font-weight="bold" font-size="9.4" fill="#0B1A2E" stroke="#0B1A2E" stroke-width="0.3">8214</text>
<rect x="118.60" y="162.35" width="3.5" height="3.5" fill="#FFFFFF"/>
<text transform="translate(130.90,67.80) rotate(90)" text-anchor="middle" textLength="20.2" lengthAdjust="spacingAndGlyphs" font-family="'Liberation Sans', sans-serif" font-weight="bold" font-size="9.4" fill="#0B1A2E" stroke="#0B1A2E" stroke-width="0.3">8175</text>
<rect x="130.75" y="80.25" width="3.5" height="3.5" fill="#FFFFFF"/>
<text transform="translate(130.90,149.40) rotate(90)" text-anchor="middle" textLength="20.2" lengthAdjust="spacingAndGlyphs" font-family="'Liberation Sans', sans-serif" font-weight="bold" font-size="9.4" fill="#0B1A2E" stroke="#0B1A2E" stroke-width="0.3">8210</text>
<rect x="130.75" y="162.35" width="3.5" height="3.5" fill="#FFFFFF"/>
<text transform="translate(143.05,67.80) rotate(90)" text-anchor="middle" textLength="20.2" lengthAdjust="spacingAndGlyphs" font-family="'Liberation Sans', sans-serif" font-weight="bold" font-size="9.4" fill="#0B1A2E" stroke="#0B1A2E" stroke-width="0.3">8173</text>
<rect x="142.90" y="80.25" width="3.5" height="3.5" fill="#FFFFFF"/>
<text transform="translate(143.05,149.40) rotate(90)" text-anchor="middle" textLength="20.2" lengthAdjust="spacingAndGlyphs" font-family="'Liberation Sans', sans-serif" font-weight="bold" font-size="9.4" fill="#0B1A2E" stroke="#0B1A2E" stroke-width="0.3">8208</text>
<rect x="142.50" y="162.35" width="3.5" height="3.5" fill="#000000"/>
<text transform="translate(155.20,67.80) rotate(90)" text-anchor="middle" textLength="20.2" lengthAdjust="spacingAndGlyphs" font-family="'Liberation Sans', sans-serif" font-weight="bold" font-size="9.4" fill="#0B1A2E" stroke="#0B1A2E" stroke-width="0.3">8171</text>
<rect x="155.05" y="80.25" width="3.5" height="3.5" fill="#FFFFFF"/>
<text transform="translate(155.20,149.40) rotate(90)" text-anchor="middle" textLength="20.2" lengthAdjust="spacingAndGlyphs" font-family="'Liberation Sans', sans-serif" font-weight="bold" font-size="9.4" fill="#0B1A2E" stroke="#0B1A2E" stroke-width="0.3">8204</text>
<rect x="155.05" y="162.35" width="3.5" height="3.5" fill="#FFFFFF"/>
<text transform="translate(167.30,67.80) rotate(90)" text-anchor="middle" textLength="20.2" lengthAdjust="spacingAndGlyphs" font-family="'Liberation Sans', sans-serif" font-weight="bold" font-size="9.4" fill="#0B1A2E" stroke="#0B1A2E" stroke-width="0.3">8169</text>
<rect x="167.15" y="80.25" width="3.5" height="3.5" fill="#FFFFFF"/>
<text transform="translate(167.30,149.40) rotate(90)" text-anchor="middle" textLength="20.2" lengthAdjust="spacingAndGlyphs" font-family="'Liberation Sans', sans-serif" font-weight="bold" font-size="9.4" fill="#0B1A2E" stroke="#0B1A2E" stroke-width="0.3">8202</text>
<rect x="167.15" y="162.35" width="3.5" height="3.5" fill="#FFFFFF"/>
<text transform="translate(179.30,67.80) rotate(90)" text-anchor="middle" textLength="20.2" lengthAdjust="spacingAndGlyphs" font-family="'Liberation Sans', sans-serif" font-weight="bold" font-size="9.4" fill="#0B1A2E" stroke="#0B1A2E" stroke-width="0.3">8167</text>
<rect x="179.15" y="80.25" width="3.5" height="3.5" fill="#FFFFFF"/>
<text transform="translate(179.30,149.40) rotate(90)" text-anchor="middle" textLength="20.2" lengthAdjust="spacingAndGlyphs" font-family="'Liberation Sans', sans-serif" font-weight="bold" font-size="9.4" fill="#0B1A2E" stroke="#0B1A2E" stroke-width="0.3">8200</text>
<rect x="179.15" y="162.35" width="3.5" height="3.5" fill="#FFFFFF"/>
<text transform="translate(191.35,67.80) rotate(90)" text-anchor="middle" textLength="20.2" lengthAdjust="spacingAndGlyphs" font-family="'Liberation Sans', sans-serif" font-weight="bold" font-size="9.4" fill="#0B1A2E" stroke="#0B1A2E" stroke-width="0.3">8165</text>
<rect x="191.20" y="80.25" width="3.5" height="3.5" fill="#FFFFFF"/>
<text transform="translate(191.35,149.40) rotate(90)" text-anchor="middle" textLength="20.2" lengthAdjust="spacingAndGlyphs" font-family="'Liberation Sans', sans-serif" font-weight="bold" font-size="9.4" fill="#0B1A2E" stroke="#0B1A2E" stroke-width="0.3">8198</text>
<rect x="191.20" y="162.35" width="3.5" height="3.5" fill="#FFFFFF"/>
<text transform="translate(204.15,67.80) rotate(90)" text-anchor="middle" textLength="20.2" lengthAdjust="spacingAndGlyphs" font-family="'Liberation Sans', sans-serif" font-weight="bold" font-size="9.4" fill="#0B1A2E" stroke="#0B1A2E" stroke-width="0.3">8163</text>
<rect x="204.00" y="80.25" width="3.5" height="3.5" fill="#FFFFFF"/>
<text transform="translate(204.15,149.40) rotate(90)" text-anchor="middle" textLength="20.2" lengthAdjust="spacingAndGlyphs" font-family="'Liberation Sans', sans-serif" font-weight="bold" font-size="9.4" fill="#0B1A2E" stroke="#0B1A2E" stroke-width="0.3">8196</text>
<rect x="204.00" y="162.35" width="3.5" height="3.5" fill="#FFFFFF"/>
<text transform="translate(217.00,67.80) rotate(90)" text-anchor="middle" textLength="20.2" lengthAdjust="spacingAndGlyphs" font-family="'Liberation Sans', sans-serif" font-weight="bold" font-size="9.4" fill="#0B1A2E" stroke="#0B1A2E" stroke-width="0.3">8161</text>
<rect x="216.85" y="80.25" width="3.5" height="3.5" fill="#FFFFFF"/>
<text transform="translate(217.00,149.40) rotate(90)" text-anchor="middle" textLength="20.2" lengthAdjust="spacingAndGlyphs" font-family="'Liberation Sans', sans-serif" font-weight="bold" font-size="9.4" fill="#0B1A2E" stroke="#0B1A2E" stroke-width="0.3">8194</text>
<rect x="216.45" y="162.35" width="3.5" height="3.5" fill="#000000"/>
<text transform="translate(229.20,67.80) rotate(90)" text-anchor="middle" textLength="20.2" lengthAdjust="spacingAndGlyphs" font-family="'Liberation Sans', sans-serif" font-weight="bold" font-size="9.4" fill="#0B1A2E" stroke="#0B1A2E" stroke-width="0.3">8159</text>
<rect x="230.15" y="80.25" width="3.5" height="3.5" fill="#000000"/>
<text transform="translate(229.20,149.40) rotate(90)" text-anchor="middle" textLength="20.2" lengthAdjust="spacingAndGlyphs" font-family="'Liberation Sans', sans-serif" font-weight="bold" font-size="9.4" fill="#0B1A2E" stroke="#0B1A2E" stroke-width="0.3">8192</text>
<rect x="229.05" y="162.35" width="3.5" height="3.5" fill="#FFFFFF"/>
<text transform="translate(241.40,67.80) rotate(90)" text-anchor="middle" textLength="20.2" lengthAdjust="spacingAndGlyphs" font-family="'Liberation Sans', sans-serif" font-weight="bold" font-size="9.4" fill="#0B1A2E" stroke="#0B1A2E" stroke-width="0.3">8157</text>
<rect x="241.25" y="80.25" width="3.5" height="3.5" fill="#FFFFFF"/>
<text transform="translate(241.40,149.40) rotate(90)" text-anchor="middle" textLength="20.2" lengthAdjust="spacingAndGlyphs" font-family="'Liberation Sans', sans-serif" font-weight="bold" font-size="9.4" fill="#0B1A2E" stroke="#0B1A2E" stroke-width="0.3">8190</text>
<rect x="240.85" y="162.35" width="3.5" height="3.5" fill="#000000"/>
<text transform="translate(253.60,67.80) rotate(90)" text-anchor="middle" textLength="20.2" lengthAdjust="spacingAndGlyphs" font-family="'Liberation Sans', sans-serif" font-weight="bold" font-size="9.4" fill="#0B1A2E" stroke="#0B1A2E" stroke-width="0.3">8155</text>
<rect x="253.45" y="80.25" width="3.5" height="3.5" fill="#FFFFFF"/>
<text transform="translate(253.60,149.40) rotate(90)" text-anchor="middle" textLength="20.2" lengthAdjust="spacingAndGlyphs" font-family="'Liberation Sans', sans-serif" font-weight="bold" font-size="9.4" fill="#0B1A2E" stroke="#0B1A2E" stroke-width="0.3">8188</text>
<rect x="253.45" y="162.35" width="3.5" height="3.5" fill="#FFFFFF"/>
<text transform="translate(265.80,67.80) rotate(90)" text-anchor="middle" textLength="20.2" lengthAdjust="spacingAndGlyphs" font-family="'Liberation Sans', sans-serif" font-weight="bold" font-size="9.4" fill="#0B1A2E" stroke="#0B1A2E" stroke-width="0.3">8153</text>
<rect x="265.65" y="80.25" width="3.5" height="3.5" fill="#FFFFFF"/>
<text transform="translate(265.80,149.40) rotate(90)" text-anchor="middle" textLength="20.2" lengthAdjust="spacingAndGlyphs" font-family="'Liberation Sans', sans-serif" font-weight="bold" font-size="9.4" fill="#0B1A2E" stroke="#0B1A2E" stroke-width="0.3">8186</text>
<rect x="265.25" y="162.35" width="3.5" height="3.5" fill="#000000"/>
<text transform="translate(277.90,67.80) rotate(90)" text-anchor="middle" textLength="20.2" lengthAdjust="spacingAndGlyphs" font-family="'Liberation Sans', sans-serif" font-weight="bold" font-size="9.4" fill="#0B1A2E" stroke="#0B1A2E" stroke-width="0.3">8151</text>
<rect x="278.85" y="80.25" width="3.5" height="3.5" fill="#000000"/>
<text transform="translate(277.90,149.40) rotate(90)" text-anchor="middle" textLength="20.2" lengthAdjust="spacingAndGlyphs" font-family="'Liberation Sans', sans-serif" font-weight="bold" font-size="9.4" fill="#0B1A2E" stroke="#0B1A2E" stroke-width="0.3">8182</text>
<rect x="277.75" y="162.35" width="3.5" height="3.5" fill="#FFFFFF"/>
<text transform="translate(289.90,67.80) rotate(90)" text-anchor="middle" textLength="20.2" lengthAdjust="spacingAndGlyphs" font-family="'Liberation Sans', sans-serif" font-weight="bold" font-size="9.4" fill="#FFFFFF" stroke="#FFFFFF" stroke-width="0.15">8149</text>
<rect x="289.75" y="80.25" width="3.5" height="3.5" fill="#FFFFFF"/>
<text transform="translate(289.90,149.40) rotate(90)" text-anchor="middle" textLength="20.2" lengthAdjust="spacingAndGlyphs" font-family="'Liberation Sans', sans-serif" font-weight="bold" font-size="9.4" fill="#FFFFFF" stroke="#FFFFFF" stroke-width="0.15">8180</text>
<rect x="289.75" y="162.35" width="3.5" height="3.5" fill="#FFFFFF"/>
<text transform="translate(302.05,67.80) rotate(90)" text-anchor="middle" textLength="20.2" lengthAdjust="spacingAndGlyphs" font-family="'Liberation Sans', sans-serif" font-weight="bold" font-size="9.4" fill="#FFFFFF" stroke="#FFFFFF" stroke-width="0.15">8147</text>
<rect x="301.90" y="80.25" width="3.5" height="3.5" fill="#FFFFFF"/>
<text transform="translate(302.05,149.40) rotate(90)" text-anchor="middle" textLength="20.2" lengthAdjust="spacingAndGlyphs" font-family="'Liberation Sans', sans-serif" font-weight="bold" font-size="9.4" fill="#FFFFFF" stroke="#FFFFFF" stroke-width="0.15">8176</text>
<rect x="301.90" y="162.35" width="3.5" height="3.5" fill="#FFFFFF"/>
<text transform="translate(314.35,67.80) rotate(90)" text-anchor="middle" textLength="20.2" lengthAdjust="spacingAndGlyphs" font-family="'Liberation Sans', sans-serif" font-weight="bold" font-size="9.4" fill="#FFFFFF" stroke="#FFFFFF" stroke-width="0.15">8145</text>
<rect x="314.20" y="80.25" width="3.5" height="3.5" fill="#FFFFFF"/>
<text transform="translate(314.35,149.40) rotate(90)" text-anchor="middle" textLength="20.2" lengthAdjust="spacingAndGlyphs" font-family="'Liberation Sans', sans-serif" font-weight="bold" font-size="9.4" fill="#FFFFFF" stroke="#FFFFFF" stroke-width="0.15">8172</text>
<rect x="313.80" y="162.35" width="3.5" height="3.5" fill="#000000"/>
<text transform="translate(326.60,67.80) rotate(90)" text-anchor="middle" textLength="20.2" lengthAdjust="spacingAndGlyphs" font-family="'Liberation Sans', sans-serif" font-weight="bold" font-size="9.4" fill="#FFFFFF" stroke="#FFFFFF" stroke-width="0.15">8143</text>
<rect x="327.55" y="80.25" width="3.5" height="3.5" fill="#000000"/>
<text transform="translate(326.60,149.40) rotate(90)" text-anchor="middle" textLength="20.2" lengthAdjust="spacingAndGlyphs" font-family="'Liberation Sans', sans-serif" font-weight="bold" font-size="9.4" fill="#FFFFFF" stroke="#FFFFFF" stroke-width="0.15">8168</text>
<rect x="326.45" y="162.35" width="3.5" height="3.5" fill="#FFFFFF"/>
<text transform="translate(338.75,67.80) rotate(90)" text-anchor="middle" textLength="20.2" lengthAdjust="spacingAndGlyphs" font-family="'Liberation Sans', sans-serif" font-weight="bold" font-size="9.4" fill="#FFFFFF" stroke="#FFFFFF" stroke-width="0.15">8141</text>
<rect x="338.60" y="80.25" width="3.5" height="3.5" fill="#FFFFFF"/>
<text transform="translate(338.75,149.40) rotate(90)" text-anchor="middle" textLength="20.2" lengthAdjust="spacingAndGlyphs" font-family="'Liberation Sans', sans-serif" font-weight="bold" font-size="9.4" fill="#FFFFFF" stroke="#FFFFFF" stroke-width="0.15">8166</text>
<rect x="338.60" y="162.35" width="3.5" height="3.5" fill="#FFFFFF"/>
<text transform="translate(350.90,67.80) rotate(90)" text-anchor="middle" textLength="20.2" lengthAdjust="spacingAndGlyphs" font-family="'Liberation Sans', sans-serif" font-weight="bold" font-size="9.4" fill="#FFFFFF" stroke="#FFFFFF" stroke-width="0.15">8139</text>
<rect x="350.75" y="80.25" width="3.5" height="3.5" fill="#FFFFFF"/>
<text transform="translate(350.90,149.40) rotate(90)" text-anchor="middle" textLength="20.2" lengthAdjust="spacingAndGlyphs" font-family="'Liberation Sans', sans-serif" font-weight="bold" font-size="9.4" fill="#FFFFFF" stroke="#FFFFFF" stroke-width="0.15">8164</text>
<rect x="350.75" y="162.35" width="3.5" height="3.5" fill="#FFFFFF"/>
<text transform="translate(363.10,67.80) rotate(90)" text-anchor="middle" textLength="20.2" lengthAdjust="spacingAndGlyphs" font-family="'Liberation Sans', sans-serif" font-weight="bold" font-size="9.4" fill="#FFFFFF" stroke="#FFFFFF" stroke-width="0.15">8137</text>
<rect x="362.95" y="80.25" width="3.5" height="3.5" fill="#FFFFFF"/>
<text transform="translate(363.10,149.40) rotate(90)" text-anchor="middle" textLength="20.2" lengthAdjust="spacingAndGlyphs" font-family="'Liberation Sans', sans-serif" font-weight="bold" font-size="9.4" fill="#FFFFFF" stroke="#FFFFFF" stroke-width="0.15">8162</text>
<rect x="362.95" y="162.35" width="3.5" height="3.5" fill="#FFFFFF"/>
<text transform="translate(375.90,67.80) rotate(90)" text-anchor="middle" textLength="20.2" lengthAdjust="spacingAndGlyphs" font-family="'Liberation Sans', sans-serif" font-weight="bold" font-size="9.4" fill="#FFFFFF" stroke="#FFFFFF" stroke-width="0.15">8135</text>
<rect x="375.75" y="80.25" width="3.5" height="3.5" fill="#FFFFFF"/>
<text transform="translate(375.90,149.40) rotate(90)" text-anchor="middle" textLength="20.2" lengthAdjust="spacingAndGlyphs" font-family="'Liberation Sans', sans-serif" font-weight="bold" font-size="9.4" fill="#FFFFFF" stroke="#FFFFFF" stroke-width="0.15">8160</text>
<rect x="375.75" y="162.35" width="3.5" height="3.5" fill="#FFFFFF"/>
<text transform="translate(388.62,67.80) rotate(90)" text-anchor="middle" textLength="20.2" lengthAdjust="spacingAndGlyphs" font-family="'Liberation Sans', sans-serif" font-weight="bold" font-size="9.4" fill="#FFFFFF" stroke="#FFFFFF" stroke-width="0.15">8133</text>
<rect x="388.48" y="80.25" width="3.5" height="3.5" fill="#FFFFFF"/>
<text transform="translate(388.62,149.40) rotate(90)" text-anchor="middle" textLength="20.2" lengthAdjust="spacingAndGlyphs" font-family="'Liberation Sans', sans-serif" font-weight="bold" font-size="9.4" fill="#FFFFFF" stroke="#FFFFFF" stroke-width="0.15">8158</text>
<rect x="388.08" y="162.35" width="3.5" height="3.5" fill="#000000"/>
<text transform="translate(400.77,67.80) rotate(90)" text-anchor="middle" textLength="20.2" lengthAdjust="spacingAndGlyphs" font-family="'Liberation Sans', sans-serif" font-weight="bold" font-size="9.4" fill="#FFFFFF" stroke="#FFFFFF" stroke-width="0.15">8131</text>
<rect x="401.73" y="80.25" width="3.5" height="3.5" fill="#000000"/>
<text transform="translate(400.77,149.40) rotate(90)" text-anchor="middle" textLength="20.2" lengthAdjust="spacingAndGlyphs" font-family="'Liberation Sans', sans-serif" font-weight="bold" font-size="9.4" fill="#FFFFFF" stroke="#FFFFFF" stroke-width="0.15">8156</text>
<rect x="400.62" y="162.35" width="3.5" height="3.5" fill="#FFFFFF"/>
<text transform="translate(413.00,67.80) rotate(90)" text-anchor="middle" textLength="20.2" lengthAdjust="spacingAndGlyphs" font-family="'Liberation Sans', sans-serif" font-weight="bold" font-size="9.4" fill="#FFFFFF" stroke="#FFFFFF" stroke-width="0.15">8129</text>
<rect x="412.85" y="80.25" width="3.5" height="3.5" fill="#FFFFFF"/>
<text transform="translate(413.00,149.40) rotate(90)" text-anchor="middle" textLength="20.2" lengthAdjust="spacingAndGlyphs" font-family="'Liberation Sans', sans-serif" font-weight="bold" font-size="9.4" fill="#FFFFFF" stroke="#FFFFFF" stroke-width="0.15">8154</text>
<rect x="412.85" y="162.35" width="3.5" height="3.5" fill="#FFFFFF"/>
<text transform="translate(425.20,67.80) rotate(90)" text-anchor="middle" textLength="20.2" lengthAdjust="spacingAndGlyphs" font-family="'Liberation Sans', sans-serif" font-weight="bold" font-size="9.4" fill="#FFFFFF" stroke="#FFFFFF" stroke-width="0.15">8127</text>
<rect x="425.05" y="80.25" width="3.5" height="3.5" fill="#FFFFFF"/>
<text transform="translate(425.20,149.40) rotate(90)" text-anchor="middle" textLength="20.2" lengthAdjust="spacingAndGlyphs" font-family="'Liberation Sans', sans-serif" font-weight="bold" font-size="9.4" fill="#FFFFFF" stroke="#FFFFFF" stroke-width="0.15">8152</text>
<rect x="425.05" y="162.35" width="3.5" height="3.5" fill="#FFFFFF"/>
<text transform="translate(437.30,67.80) rotate(90)" text-anchor="middle" textLength="20.2" lengthAdjust="spacingAndGlyphs" font-family="'Liberation Sans', sans-serif" font-weight="bold" font-size="9.4" fill="#FFFFFF" stroke="#FFFFFF" stroke-width="0.15">8125</text>
<rect x="437.15" y="80.25" width="3.5" height="3.5" fill="#FFFFFF"/>
<text transform="translate(437.30,149.40) rotate(90)" text-anchor="middle" textLength="20.2" lengthAdjust="spacingAndGlyphs" font-family="'Liberation Sans', sans-serif" font-weight="bold" font-size="9.4" fill="#FFFFFF" stroke="#FFFFFF" stroke-width="0.15">8150</text>
<rect x="437.15" y="162.35" width="3.5" height="3.5" fill="#FFFFFF"/>
<text transform="translate(449.27,67.80) rotate(90)" text-anchor="middle" textLength="20.2" lengthAdjust="spacingAndGlyphs" font-family="'Liberation Sans', sans-serif" font-weight="bold" font-size="9.4" fill="#FFFFFF" stroke="#FFFFFF" stroke-width="0.15">8123</text>
<rect x="449.12" y="80.25" width="3.5" height="3.5" fill="#FFFFFF"/>
<text transform="translate(449.27,149.40) rotate(90)" text-anchor="middle" textLength="20.2" lengthAdjust="spacingAndGlyphs" font-family="'Liberation Sans', sans-serif" font-weight="bold" font-size="9.4" fill="#FFFFFF" stroke="#FFFFFF" stroke-width="0.15">8148</text>
<rect x="449.12" y="162.35" width="3.5" height="3.5" fill="#FFFFFF"/>
<text transform="translate(461.23,62.30) rotate(90)" text-anchor="middle" textLength="20.2" lengthAdjust="spacingAndGlyphs" font-family="'Liberation Sans', sans-serif" font-weight="bold" font-size="9.4" fill="#FFFFFF" stroke="#FFFFFF" stroke-width="0.15">8121</text>
<rect x="461.08" y="74.75" width="3.5" height="3.5" fill="#FFFFFF"/>
<text transform="translate(461.23,154.90) rotate(90)" text-anchor="middle" textLength="20.2" lengthAdjust="spacingAndGlyphs" font-family="'Liberation Sans', sans-serif" font-weight="bold" font-size="9.4" fill="#FFFFFF" stroke="#FFFFFF" stroke-width="0.15">8146</text>
<rect x="461.08" y="168.55" width="3.5" height="3.5" fill="#FFFFFF"/>
<text transform="translate(473.30,62.30) rotate(90)" text-anchor="middle" textLength="20.2" lengthAdjust="spacingAndGlyphs" font-family="'Liberation Sans', sans-serif" font-weight="bold" font-size="9.4" fill="#FFFFFF" stroke="#FFFFFF" stroke-width="0.15">8119</text>
<rect x="474.25" y="74.75" width="3.5" height="3.5" fill="#000000"/>
<text transform="translate(473.30,154.90) rotate(90)" text-anchor="middle" textLength="20.2" lengthAdjust="spacingAndGlyphs" font-family="'Liberation Sans', sans-serif" font-weight="bold" font-size="9.4" fill="#FFFFFF" stroke="#FFFFFF" stroke-width="0.15">8144</text>
<rect x="473.15" y="168.55" width="3.5" height="3.5" fill="#FFFFFF"/>
<text transform="translate(485.50,62.30) rotate(90)" text-anchor="middle" textLength="20.2" lengthAdjust="spacingAndGlyphs" font-family="'Liberation Sans', sans-serif" font-weight="bold" font-size="9.4" fill="#FFFFFF" stroke="#FFFFFF" stroke-width="0.15">8117</text>
<rect x="485.35" y="74.75" width="3.5" height="3.5" fill="#FFFFFF"/>
<text transform="translate(485.50,154.90) rotate(90)" text-anchor="middle" textLength="20.2" lengthAdjust="spacingAndGlyphs" font-family="'Liberation Sans', sans-serif" font-weight="bold" font-size="9.4" fill="#FFFFFF" stroke="#FFFFFF" stroke-width="0.15">8142</text>
<rect x="485.35" y="168.55" width="3.5" height="3.5" fill="#FFFFFF"/>
<text transform="translate(497.70,62.30) rotate(90)" text-anchor="middle" textLength="20.2" lengthAdjust="spacingAndGlyphs" font-family="'Liberation Sans', sans-serif" font-weight="bold" font-size="9.4" fill="#FFFFFF" stroke="#FFFFFF" stroke-width="0.15">8115</text>
<rect x="497.55" y="74.75" width="3.5" height="3.5" fill="#FFFFFF"/>
<text transform="translate(497.70,154.90) rotate(90)" text-anchor="middle" textLength="20.2" lengthAdjust="spacingAndGlyphs" font-family="'Liberation Sans', sans-serif" font-weight="bold" font-size="9.4" fill="#FFFFFF" stroke="#FFFFFF" stroke-width="0.15">8140</text>
<rect x="497.55" y="168.55" width="3.5" height="3.5" fill="#FFFFFF"/>
<text transform="translate(509.82,62.30) rotate(90)" text-anchor="middle" textLength="20.2" lengthAdjust="spacingAndGlyphs" font-family="'Liberation Sans', sans-serif" font-weight="bold" font-size="9.4" fill="#FFFFFF" stroke="#FFFFFF" stroke-width="0.15">8111</text>
<rect x="509.67" y="74.75" width="3.5" height="3.5" fill="#FFFFFF"/>
<text transform="translate(509.82,154.90) rotate(90)" text-anchor="middle" textLength="20.2" lengthAdjust="spacingAndGlyphs" font-family="'Liberation Sans', sans-serif" font-weight="bold" font-size="9.4" fill="#FFFFFF" stroke="#FFFFFF" stroke-width="0.15">8138</text>
<rect x="509.27" y="168.55" width="3.5" height="3.5" fill="#000000"/>
<text transform="translate(521.93,62.30) rotate(90)" text-anchor="middle" textLength="20.2" lengthAdjust="spacingAndGlyphs" font-family="'Liberation Sans', sans-serif" font-weight="bold" font-size="9.4" fill="#FFFFFF" stroke="#FFFFFF" stroke-width="0.15">8109</text>
<rect x="521.78" y="74.75" width="3.5" height="3.5" fill="#FFFFFF"/>
<text transform="translate(521.93,154.90) rotate(90)" text-anchor="middle" textLength="20.2" lengthAdjust="spacingAndGlyphs" font-family="'Liberation Sans', sans-serif" font-weight="bold" font-size="9.4" fill="#FFFFFF" stroke="#FFFFFF" stroke-width="0.15">8136</text>
<rect x="521.78" y="168.55" width="3.5" height="3.5" fill="#FFFFFF"/>
<text transform="translate(534.10,67.80) rotate(90)" text-anchor="middle" textLength="20.2" lengthAdjust="spacingAndGlyphs" font-family="'Liberation Sans', sans-serif" font-weight="bold" font-size="9.4" fill="#FFFFFF" stroke="#FFFFFF" stroke-width="0.15">8107</text>
<rect x="533.95" y="80.25" width="3.5" height="3.5" fill="#FFFFFF"/>
<text transform="translate(534.10,149.40) rotate(90)" text-anchor="middle" textLength="20.2" lengthAdjust="spacingAndGlyphs" font-family="'Liberation Sans', sans-serif" font-weight="bold" font-size="9.4" fill="#FFFFFF" stroke="#FFFFFF" stroke-width="0.15">8134</text>
<rect x="533.95" y="162.35" width="3.5" height="3.5" fill="#FFFFFF"/>
<text transform="translate(546.17,67.80) rotate(90)" text-anchor="middle" textLength="20.2" lengthAdjust="spacingAndGlyphs" font-family="'Liberation Sans', sans-serif" font-weight="bold" font-size="9.4" fill="#FFFFFF" stroke="#FFFFFF" stroke-width="0.15">8105</text>
<rect x="546.02" y="80.25" width="3.5" height="3.5" fill="#FFFFFF"/>
<text transform="translate(546.17,149.40) rotate(90)" text-anchor="middle" textLength="20.2" lengthAdjust="spacingAndGlyphs" font-family="'Liberation Sans', sans-serif" font-weight="bold" font-size="9.4" fill="#FFFFFF" stroke="#FFFFFF" stroke-width="0.15">8132</text>
<rect x="546.02" y="162.35" width="3.5" height="3.5" fill="#FFFFFF"/>
<text transform="translate(558.32,67.80) rotate(90)" text-anchor="middle" textLength="20.2" lengthAdjust="spacingAndGlyphs" font-family="'Liberation Sans', sans-serif" font-weight="bold" font-size="9.4" fill="#FFFFFF" stroke="#FFFFFF" stroke-width="0.15">8103</text>
<rect x="558.17" y="80.25" width="3.5" height="3.5" fill="#FFFFFF"/>
<text transform="translate(558.32,149.40) rotate(90)" text-anchor="middle" textLength="20.2" lengthAdjust="spacingAndGlyphs" font-family="'Liberation Sans', sans-serif" font-weight="bold" font-size="9.4" fill="#FFFFFF" stroke="#FFFFFF" stroke-width="0.15">8130</text>
<rect x="557.77" y="162.35" width="3.5" height="3.5" fill="#000000"/>
<text transform="translate(570.70,67.80) rotate(90)" text-anchor="middle" textLength="20.2" lengthAdjust="spacingAndGlyphs" font-family="'Liberation Sans', sans-serif" font-weight="bold" font-size="9.4" fill="#FFFFFF" stroke="#FFFFFF" stroke-width="0.15">8101</text>
<rect x="571.65" y="80.25" width="3.5" height="3.5" fill="#000000"/>
<text transform="translate(570.70,149.40) rotate(90)" text-anchor="middle" textLength="20.2" lengthAdjust="spacingAndGlyphs" font-family="'Liberation Sans', sans-serif" font-weight="bold" font-size="9.4" fill="#FFFFFF" stroke="#FFFFFF" stroke-width="0.15">8128</text>
<rect x="570.55" y="162.35" width="3.5" height="3.5" fill="#FFFFFF"/>
<text transform="translate(583.00,67.80) rotate(90)" text-anchor="middle" textLength="20.2" lengthAdjust="spacingAndGlyphs" font-family="'Liberation Sans', sans-serif" font-weight="bold" font-size="9.4" fill="#FFFFFF" stroke="#FFFFFF" stroke-width="0.15">8099</text>
<rect x="582.85" y="80.25" width="3.5" height="3.5" fill="#FFFFFF"/>
<text transform="translate(583.00,149.40) rotate(90)" text-anchor="middle" textLength="20.2" lengthAdjust="spacingAndGlyphs" font-family="'Liberation Sans', sans-serif" font-weight="bold" font-size="9.4" fill="#FFFFFF" stroke="#FFFFFF" stroke-width="0.15">8126</text>
<rect x="582.85" y="162.35" width="3.5" height="3.5" fill="#FFFFFF"/>
<text transform="translate(595.70,67.80) rotate(90)" text-anchor="middle" textLength="20.2" lengthAdjust="spacingAndGlyphs" font-family="'Liberation Sans', sans-serif" font-weight="bold" font-size="9.4" fill="#FFFFFF" stroke="#FFFFFF" stroke-width="0.15">8097</text>
<rect x="595.55" y="80.25" width="3.5" height="3.5" fill="#FFFFFF"/>
<text transform="translate(595.70,149.40) rotate(90)" text-anchor="middle" textLength="20.2" lengthAdjust="spacingAndGlyphs" font-family="'Liberation Sans', sans-serif" font-weight="bold" font-size="9.4" fill="#FFFFFF" stroke="#FFFFFF" stroke-width="0.15">8124</text>
<rect x="595.55" y="162.35" width="3.5" height="3.5" fill="#FFFFFF"/>
<text transform="translate(608.50,67.80) rotate(90)" text-anchor="middle" textLength="20.2" lengthAdjust="spacingAndGlyphs" font-family="'Liberation Sans', sans-serif" font-weight="bold" font-size="9.4" fill="#FFFFFF" stroke="#FFFFFF" stroke-width="0.15">8095</text>
<rect x="608.35" y="80.25" width="3.5" height="3.5" fill="#FFFFFF"/>
<text transform="translate(608.50,149.40) rotate(90)" text-anchor="middle" textLength="20.2" lengthAdjust="spacingAndGlyphs" font-family="'Liberation Sans', sans-serif" font-weight="bold" font-size="9.4" fill="#FFFFFF" stroke="#FFFFFF" stroke-width="0.15">8122</text>
<rect x="608.35" y="162.35" width="3.5" height="3.5" fill="#FFFFFF"/>
<text transform="translate(620.70,67.80) rotate(90)" text-anchor="middle" textLength="20.2" lengthAdjust="spacingAndGlyphs" font-family="'Liberation Sans', sans-serif" font-weight="bold" font-size="9.4" fill="#FFFFFF" stroke="#FFFFFF" stroke-width="0.15">8093</text>
<rect x="620.55" y="80.25" width="3.5" height="3.5" fill="#FFFFFF"/>
<text transform="translate(620.70,149.40) rotate(90)" text-anchor="middle" textLength="20.2" lengthAdjust="spacingAndGlyphs" font-family="'Liberation Sans', sans-serif" font-weight="bold" font-size="9.4" fill="#FFFFFF" stroke="#FFFFFF" stroke-width="0.15">8120</text>
<rect x="620.55" y="162.35" width="3.5" height="3.5" fill="#FFFFFF"/>
<text transform="translate(632.80,67.80) rotate(90)" text-anchor="middle" textLength="20.2" lengthAdjust="spacingAndGlyphs" font-family="'Liberation Sans', sans-serif" font-weight="bold" font-size="9.4" fill="#FFFFFF" stroke="#FFFFFF" stroke-width="0.15">8091</text>
<rect x="632.65" y="80.25" width="3.5" height="3.5" fill="#FFFFFF"/>
<text transform="translate(632.80,149.40) rotate(90)" text-anchor="middle" textLength="20.2" lengthAdjust="spacingAndGlyphs" font-family="'Liberation Sans', sans-serif" font-weight="bold" font-size="9.4" fill="#FFFFFF" stroke="#FFFFFF" stroke-width="0.15">8118</text>
<rect x="632.65" y="162.35" width="3.5" height="3.5" fill="#FFFFFF"/>
<text transform="translate(645.00,67.80) rotate(90)" text-anchor="middle" textLength="20.2" lengthAdjust="spacingAndGlyphs" font-family="'Liberation Sans', sans-serif" font-weight="bold" font-size="9.4" fill="#FFFFFF" stroke="#FFFFFF" stroke-width="0.15">8089</text>
<rect x="644.85" y="80.25" width="3.5" height="3.5" fill="#FFFFFF"/>
<text transform="translate(645.00,149.40) rotate(90)" text-anchor="middle" textLength="20.2" lengthAdjust="spacingAndGlyphs" font-family="'Liberation Sans', sans-serif" font-weight="bold" font-size="9.4" fill="#FFFFFF" stroke="#FFFFFF" stroke-width="0.15">8116</text>
<rect x="644.85" y="162.35" width="3.5" height="3.5" fill="#FFFFFF"/>
<text transform="translate(657.12,67.80) rotate(90)" text-anchor="middle" textLength="20.2" lengthAdjust="spacingAndGlyphs" font-family="'Liberation Sans', sans-serif" font-weight="bold" font-size="9.4" fill="#FFFFFF" stroke="#FFFFFF" stroke-width="0.15">8087</text>
<rect x="656.98" y="80.25" width="3.5" height="3.5" fill="#FFFFFF"/>
<text transform="translate(657.12,149.40) rotate(90)" text-anchor="middle" textLength="20.2" lengthAdjust="spacingAndGlyphs" font-family="'Liberation Sans', sans-serif" font-weight="bold" font-size="9.4" fill="#FFFFFF" stroke="#FFFFFF" stroke-width="0.15">8114</text>
<rect x="656.98" y="162.35" width="3.5" height="3.5" fill="#FFFFFF"/>
<text transform="translate(669.17,67.80) rotate(90)" text-anchor="middle" textLength="20.2" lengthAdjust="spacingAndGlyphs" font-family="'Liberation Sans', sans-serif" font-weight="bold" font-size="9.4" fill="#FFFFFF" stroke="#FFFFFF" stroke-width="0.15">8085</text>
<rect x="669.02" y="80.25" width="3.5" height="3.5" fill="#FFFFFF"/>
<text transform="translate(669.17,149.40) rotate(90)" text-anchor="middle" textLength="20.2" lengthAdjust="spacingAndGlyphs" font-family="'Liberation Sans', sans-serif" font-weight="bold" font-size="9.4" fill="#FFFFFF" stroke="#FFFFFF" stroke-width="0.15">8110</text>
<rect x="669.02" y="162.35" width="3.5" height="3.5" fill="#FFFFFF"/>
<text transform="translate(681.30,67.80) rotate(90)" text-anchor="middle" textLength="20.2" lengthAdjust="spacingAndGlyphs" font-family="'Liberation Sans', sans-serif" font-weight="bold" font-size="9.4" fill="#FFFFFF" stroke="#FFFFFF" stroke-width="0.15">8083</text>
<rect x="681.15" y="80.25" width="3.5" height="3.5" fill="#FFFFFF"/>
<text transform="translate(681.30,149.40) rotate(90)" text-anchor="middle" textLength="20.2" lengthAdjust="spacingAndGlyphs" font-family="'Liberation Sans', sans-serif" font-weight="bold" font-size="9.4" fill="#FFFFFF" stroke="#FFFFFF" stroke-width="0.15">8106</text>
<rect x="681.15" y="162.35" width="3.5" height="3.5" fill="#FFFFFF"/>
<text transform="translate(693.50,67.80) rotate(90)" text-anchor="middle" textLength="20.2" lengthAdjust="spacingAndGlyphs" font-family="'Liberation Sans', sans-serif" font-weight="bold" font-size="9.4" fill="#FFFFFF" stroke="#FFFFFF" stroke-width="0.15">8081</text>
<rect x="693.35" y="80.25" width="3.5" height="3.5" fill="#FFFFFF"/>
<text transform="translate(693.50,149.40) rotate(90)" text-anchor="middle" textLength="20.2" lengthAdjust="spacingAndGlyphs" font-family="'Liberation Sans', sans-serif" font-weight="bold" font-size="9.4" fill="#FFFFFF" stroke="#FFFFFF" stroke-width="0.15">8102</text>
<rect x="693.35" y="162.35" width="3.5" height="3.5" fill="#FFFFFF"/>
<text transform="translate(705.70,67.80) rotate(90)" text-anchor="middle" textLength="20.2" lengthAdjust="spacingAndGlyphs" font-family="'Liberation Sans', sans-serif" font-weight="bold" font-size="9.4" fill="#FFFFFF" stroke="#FFFFFF" stroke-width="0.15">8079</text>
<rect x="705.55" y="80.25" width="3.5" height="3.5" fill="#FFFFFF"/>
<text transform="translate(705.70,149.40) rotate(90)" text-anchor="middle" textLength="20.2" lengthAdjust="spacingAndGlyphs" font-family="'Liberation Sans', sans-serif" font-weight="bold" font-size="9.4" fill="#FFFFFF" stroke="#FFFFFF" stroke-width="0.15">8100</text>
<rect x="705.55" y="162.35" width="3.5" height="3.5" fill="#FFFFFF"/>
<text transform="translate(717.90,67.80) rotate(90)" text-anchor="middle" textLength="20.2" lengthAdjust="spacingAndGlyphs" font-family="'Liberation Sans', sans-serif" font-weight="bold" font-size="9.4" fill="#FFFFFF" stroke="#FFFFFF" stroke-width="0.15">8077</text>
<rect x="717.75" y="80.25" width="3.5" height="3.5" fill="#FFFFFF"/>
<text transform="translate(717.90,149.40) rotate(90)" text-anchor="middle" textLength="20.2" lengthAdjust="spacingAndGlyphs" font-family="'Liberation Sans', sans-serif" font-weight="bold" font-size="9.4" fill="#FFFFFF" stroke="#FFFFFF" stroke-width="0.15">8096</text>
<rect x="717.75" y="162.35" width="3.5" height="3.5" fill="#FFFFFF"/>
<text transform="translate(730.10,67.80) rotate(90)" text-anchor="middle" textLength="20.2" lengthAdjust="spacingAndGlyphs" font-family="'Liberation Sans', sans-serif" font-weight="bold" font-size="9.4" fill="#FFFFFF" stroke="#FFFFFF" stroke-width="0.15">8075</text>
<rect x="729.95" y="80.25" width="3.5" height="3.5" fill="#FFFFFF"/>
<text transform="translate(730.10,149.40) rotate(90)" text-anchor="middle" textLength="20.2" lengthAdjust="spacingAndGlyphs" font-family="'Liberation Sans', sans-serif" font-weight="bold" font-size="9.4" fill="#FFFFFF" stroke="#FFFFFF" stroke-width="0.15">8092</text>
<rect x="729.95" y="162.35" width="3.5" height="3.5" fill="#FFFFFF"/>
<text transform="translate(742.30,67.80) rotate(90)" text-anchor="middle" textLength="20.2" lengthAdjust="spacingAndGlyphs" font-family="'Liberation Sans', sans-serif" font-weight="bold" font-size="9.4" fill="#FFFFFF" stroke="#FFFFFF" stroke-width="0.15">8073</text>
<rect x="742.15" y="80.25" width="3.5" height="3.5" fill="#FFFFFF"/>
<text transform="translate(742.30,149.40) rotate(90)" text-anchor="middle" textLength="20.2" lengthAdjust="spacingAndGlyphs" font-family="'Liberation Sans', sans-serif" font-weight="bold" font-size="9.4" fill="#FFFFFF" stroke="#FFFFFF" stroke-width="0.15">8088</text>
<rect x="742.15" y="162.35" width="3.5" height="3.5" fill="#FFFFFF"/>
<text transform="translate(754.50,67.80) rotate(90)" text-anchor="middle" textLength="20.2" lengthAdjust="spacingAndGlyphs" font-family="'Liberation Sans', sans-serif" font-weight="bold" font-size="9.4" fill="#FFFFFF" stroke="#FFFFFF" stroke-width="0.15">8071</text>
<rect x="754.35" y="80.25" width="3.5" height="3.5" fill="#FFFFFF"/>
<text transform="translate(754.50,149.40) rotate(90)" text-anchor="middle" textLength="20.2" lengthAdjust="spacingAndGlyphs" font-family="'Liberation Sans', sans-serif" font-weight="bold" font-size="9.4" fill="#FFFFFF" stroke="#FFFFFF" stroke-width="0.15">8086</text>
<rect x="754.35" y="162.35" width="3.5" height="3.5" fill="#FFFFFF"/>
<text transform="translate(766.55,67.80) rotate(90)" text-anchor="middle" textLength="20.2" lengthAdjust="spacingAndGlyphs" font-family="'Liberation Sans', sans-serif" font-weight="bold" font-size="9.4" fill="#FFFFFF" stroke="#FFFFFF" stroke-width="0.15">8069</text>
<rect x="766.40" y="80.25" width="3.5" height="3.5" fill="#FFFFFF"/>
<text transform="translate(766.55,149.40) rotate(90)" text-anchor="middle" textLength="20.2" lengthAdjust="spacingAndGlyphs" font-family="'Liberation Sans', sans-serif" font-weight="bold" font-size="9.4" fill="#FFFFFF" stroke="#FFFFFF" stroke-width="0.15">8084</text>
<rect x="766.40" y="162.35" width="3.5" height="3.5" fill="#FFFFFF"/>
<text transform="translate(779.20,67.80) rotate(90)" text-anchor="middle" textLength="20.2" lengthAdjust="spacingAndGlyphs" font-family="'Liberation Sans', sans-serif" font-weight="bold" font-size="9.4" fill="#FFFFFF" stroke="#FFFFFF" stroke-width="0.15">8067</text>
<rect x="779.05" y="80.25" width="3.5" height="3.5" fill="#FFFFFF"/>
<text transform="translate(779.20,149.40) rotate(90)" text-anchor="middle" textLength="20.2" lengthAdjust="spacingAndGlyphs" font-family="'Liberation Sans', sans-serif" font-weight="bold" font-size="9.4" fill="#FFFFFF" stroke="#FFFFFF" stroke-width="0.15">8082</text>
<rect x="779.05" y="162.35" width="3.5" height="3.5" fill="#FFFFFF"/>
<text transform="translate(791.90,67.80) rotate(90)" text-anchor="middle" textLength="20.2" lengthAdjust="spacingAndGlyphs" font-family="'Liberation Sans', sans-serif" font-weight="bold" font-size="9.4" fill="#FFFFFF" stroke="#FFFFFF" stroke-width="0.15">8065</text>
<rect x="791.75" y="80.25" width="3.5" height="3.5" fill="#FFFFFF"/>
<text transform="translate(791.90,149.40) rotate(90)" text-anchor="middle" textLength="20.2" lengthAdjust="spacingAndGlyphs" font-family="'Liberation Sans', sans-serif" font-weight="bold" font-size="9.4" fill="#FFFFFF" stroke="#FFFFFF" stroke-width="0.15">8078</text>
<rect x="791.75" y="162.35" width="3.5" height="3.5" fill="#FFFFFF"/>
<text transform="translate(804.00,67.80) rotate(90)" text-anchor="middle" textLength="20.2" lengthAdjust="spacingAndGlyphs" font-family="'Liberation Sans', sans-serif" font-weight="bold" font-size="9.4" fill="#FFFFFF" stroke="#FFFFFF" stroke-width="0.15">8063</text>
<rect x="803.85" y="80.25" width="3.5" height="3.5" fill="#FFFFFF"/>
<text transform="translate(804.00,149.40) rotate(90)" text-anchor="middle" textLength="20.2" lengthAdjust="spacingAndGlyphs" font-family="'Liberation Sans', sans-serif" font-weight="bold" font-size="9.4" fill="#FFFFFF" stroke="#FFFFFF" stroke-width="0.15">8074</text>
<rect x="803.85" y="162.35" width="3.5" height="3.5" fill="#FFFFFF"/>
<text transform="translate(816.20,67.80) rotate(90)" text-anchor="middle" textLength="20.2" lengthAdjust="spacingAndGlyphs" font-family="'Liberation Sans', sans-serif" font-weight="bold" font-size="9.4" fill="#FFFFFF" stroke="#FFFFFF" stroke-width="0.15">8061</text>
<rect x="816.05" y="80.25" width="3.5" height="3.5" fill="#FFFFFF"/>
<text transform="translate(816.20,149.40) rotate(90)" text-anchor="middle" textLength="20.2" lengthAdjust="spacingAndGlyphs" font-family="'Liberation Sans', sans-serif" font-weight="bold" font-size="9.4" fill="#FFFFFF" stroke="#FFFFFF" stroke-width="0.15">8070</text>
<rect x="816.05" y="162.35" width="3.5" height="3.5" fill="#FFFFFF"/>
<text transform="translate(828.40,67.80) rotate(90)" text-anchor="middle" textLength="20.2" lengthAdjust="spacingAndGlyphs" font-family="'Liberation Sans', sans-serif" font-weight="bold" font-size="9.4" fill="#FFFFFF" stroke="#FFFFFF" stroke-width="0.15">8059</text>
<rect x="828.25" y="80.25" width="3.5" height="3.5" fill="#FFFFFF"/>
<text transform="translate(828.40,149.40) rotate(90)" text-anchor="middle" textLength="20.2" lengthAdjust="spacingAndGlyphs" font-family="'Liberation Sans', sans-serif" font-weight="bold" font-size="9.4" fill="#FFFFFF" stroke="#FFFFFF" stroke-width="0.15">8068</text>
<rect x="828.25" y="162.35" width="3.5" height="3.5" fill="#FFFFFF"/>
<text transform="translate(840.60,67.80) rotate(90)" text-anchor="middle" textLength="20.2" lengthAdjust="spacingAndGlyphs" font-family="'Liberation Sans', sans-serif" font-weight="bold" font-size="9.4" fill="#FFFFFF" stroke="#FFFFFF" stroke-width="0.15">8057</text>
<rect x="840.45" y="80.25" width="3.5" height="3.5" fill="#FFFFFF"/>
<text transform="translate(840.60,149.40) rotate(90)" text-anchor="middle" textLength="20.2" lengthAdjust="spacingAndGlyphs" font-family="'Liberation Sans', sans-serif" font-weight="bold" font-size="9.4" fill="#FFFFFF" stroke="#FFFFFF" stroke-width="0.15">8064</text>
<rect x="840.45" y="162.35" width="3.5" height="3.5" fill="#FFFFFF"/>
<text transform="translate(852.80,67.80) rotate(90)" text-anchor="middle" textLength="20.2" lengthAdjust="spacingAndGlyphs" font-family="'Liberation Sans', sans-serif" font-weight="bold" font-size="9.4" fill="#FFFFFF" stroke="#FFFFFF" stroke-width="0.15">8055</text>
<rect x="852.65" y="80.25" width="3.5" height="3.5" fill="#FFFFFF"/>
<text transform="translate(852.80,149.40) rotate(90)" text-anchor="middle" textLength="20.2" lengthAdjust="spacingAndGlyphs" font-family="'Liberation Sans', sans-serif" font-weight="bold" font-size="9.4" fill="#FFFFFF" stroke="#FFFFFF" stroke-width="0.15">8062</text>
<rect x="852.65" y="162.35" width="3.5" height="3.5" fill="#FFFFFF"/>
<text transform="translate(864.88,67.80) rotate(90)" text-anchor="middle" textLength="20.2" lengthAdjust="spacingAndGlyphs" font-family="'Liberation Sans', sans-serif" font-weight="bold" font-size="9.4" fill="#FFFFFF" stroke="#FFFFFF" stroke-width="0.15">8053</text>
<rect x="864.73" y="80.25" width="3.5" height="3.5" fill="#FFFFFF"/>
<text transform="translate(864.88,149.40) rotate(90)" text-anchor="middle" textLength="20.2" lengthAdjust="spacingAndGlyphs" font-family="'Liberation Sans', sans-serif" font-weight="bold" font-size="9.4" fill="#FFFFFF" stroke="#FFFFFF" stroke-width="0.15">8058</text>
<rect x="864.73" y="162.35" width="3.5" height="3.5" fill="#FFFFFF"/>
<text transform="translate(876.90,62.30) rotate(90)" text-anchor="middle" textLength="20.2" lengthAdjust="spacingAndGlyphs" font-family="'Liberation Sans', sans-serif" font-weight="bold" font-size="9.4" fill="#FFFFFF" stroke="#FFFFFF" stroke-width="0.15">8051</text>
<rect x="876.75" y="74.75" width="3.5" height="3.5" fill="#FFFFFF"/>
<text transform="translate(876.90,154.90) rotate(90)" text-anchor="middle" textLength="20.2" lengthAdjust="spacingAndGlyphs" font-family="'Liberation Sans', sans-serif" font-weight="bold" font-size="9.4" fill="#FFFFFF" stroke="#FFFFFF" stroke-width="0.15">8056</text>
<rect x="876.75" y="168.55" width="3.5" height="3.5" fill="#FFFFFF"/>
<text transform="translate(889.07,62.30) rotate(90)" text-anchor="middle" textLength="20.2" lengthAdjust="spacingAndGlyphs" font-family="'Liberation Sans', sans-serif" font-weight="bold" font-size="9.4" fill="#FFFFFF" stroke="#FFFFFF" stroke-width="0.15">8049</text>
<rect x="888.92" y="74.75" width="3.5" height="3.5" fill="#FFFFFF"/>
<text transform="translate(889.07,154.90) rotate(90)" text-anchor="middle" textLength="20.2" lengthAdjust="spacingAndGlyphs" font-family="'Liberation Sans', sans-serif" font-weight="bold" font-size="9.4" fill="#FFFFFF" stroke="#FFFFFF" stroke-width="0.15">8054</text>
<rect x="888.92" y="168.55" width="3.5" height="3.5" fill="#FFFFFF"/>
<text transform="translate(901.30,62.30) rotate(90)" text-anchor="middle" textLength="20.2" lengthAdjust="spacingAndGlyphs" font-family="'Liberation Sans', sans-serif" font-weight="bold" font-size="9.4" fill="#FFFFFF" stroke="#FFFFFF" stroke-width="0.15">8047</text>
<rect x="901.15" y="74.75" width="3.5" height="3.5" fill="#FFFFFF"/>
<text transform="translate(901.30,154.90) rotate(90)" text-anchor="middle" textLength="20.2" lengthAdjust="spacingAndGlyphs" font-family="'Liberation Sans', sans-serif" font-weight="bold" font-size="9.4" fill="#FFFFFF" stroke="#FFFFFF" stroke-width="0.15">8052</text>
<rect x="901.15" y="168.55" width="3.5" height="3.5" fill="#FFFFFF"/>
<text transform="translate(913.50,62.30) rotate(90)" text-anchor="middle" textLength="20.2" lengthAdjust="spacingAndGlyphs" font-family="'Liberation Sans', sans-serif" font-weight="bold" font-size="9.4" fill="#FFFFFF" stroke="#FFFFFF" stroke-width="0.15">8045</text>
<rect x="913.35" y="74.75" width="3.5" height="3.5" fill="#FFFFFF"/>
<text transform="translate(913.50,154.90) rotate(90)" text-anchor="middle" textLength="20.2" lengthAdjust="spacingAndGlyphs" font-family="'Liberation Sans', sans-serif" font-weight="bold" font-size="9.4" fill="#FFFFFF" stroke="#FFFFFF" stroke-width="0.15">8050</text>
<rect x="913.35" y="168.55" width="3.5" height="3.5" fill="#FFFFFF"/>
<text transform="translate(925.70,62.30) rotate(90)" text-anchor="middle" textLength="20.2" lengthAdjust="spacingAndGlyphs" font-family="'Liberation Sans', sans-serif" font-weight="bold" font-size="9.4" fill="#FFFFFF" stroke="#FFFFFF" stroke-width="0.15">8043</text>
<rect x="925.55" y="74.75" width="3.5" height="3.5" fill="#FFFFFF"/>
<text transform="translate(925.70,154.90) rotate(90)" text-anchor="middle" textLength="20.2" lengthAdjust="spacingAndGlyphs" font-family="'Liberation Sans', sans-serif" font-weight="bold" font-size="9.4" fill="#FFFFFF" stroke="#FFFFFF" stroke-width="0.15">8048</text>
<rect x="925.55" y="168.55" width="3.5" height="3.5" fill="#FFFFFF"/>
<text transform="translate(937.90,62.30) rotate(90)" text-anchor="middle" textLength="20.2" lengthAdjust="spacingAndGlyphs" font-family="'Liberation Sans', sans-serif" font-weight="bold" font-size="9.4" fill="#FFFFFF" stroke="#FFFFFF" stroke-width="0.15">8041</text>
<rect x="937.75" y="74.75" width="3.5" height="3.5" fill="#FFFFFF"/>
<text transform="translate(937.90,154.90) rotate(90)" text-anchor="middle" textLength="20.2" lengthAdjust="spacingAndGlyphs" font-family="'Liberation Sans', sans-serif" font-weight="bold" font-size="9.4" fill="#FFFFFF" stroke="#FFFFFF" stroke-width="0.15">8046</text>
<rect x="937.75" y="168.55" width="3.5" height="3.5" fill="#FFFFFF"/>
<text transform="translate(950.85,67.80) rotate(90)" text-anchor="middle" textLength="20.2" lengthAdjust="spacingAndGlyphs" font-family="'Liberation Sans', sans-serif" font-weight="bold" font-size="9.4" fill="#FFFFFF" stroke="#FFFFFF" stroke-width="0.15">8039</text>
<rect x="950.70" y="80.25" width="3.5" height="3.5" fill="#FFFFFF"/>
<text transform="translate(950.85,149.40) rotate(90)" text-anchor="middle" textLength="20.2" lengthAdjust="spacingAndGlyphs" font-family="'Liberation Sans', sans-serif" font-weight="bold" font-size="9.4" fill="#FFFFFF" stroke="#FFFFFF" stroke-width="0.15">8044</text>
<rect x="950.70" y="162.35" width="3.5" height="3.5" fill="#FFFFFF"/>
<text transform="translate(963.70,67.80) rotate(90)" text-anchor="middle" textLength="20.2" lengthAdjust="spacingAndGlyphs" font-family="'Liberation Sans', sans-serif" font-weight="bold" font-size="9.4" fill="#FFFFFF" stroke="#FFFFFF" stroke-width="0.15">8037</text>
<rect x="963.55" y="80.25" width="3.5" height="3.5" fill="#FFFFFF"/>
<text transform="translate(963.70,149.40) rotate(90)" text-anchor="middle" textLength="20.2" lengthAdjust="spacingAndGlyphs" font-family="'Liberation Sans', sans-serif" font-weight="bold" font-size="9.4" fill="#FFFFFF" stroke="#FFFFFF" stroke-width="0.15">8042</text>
<rect x="963.55" y="162.35" width="3.5" height="3.5" fill="#FFFFFF"/>
<text transform="translate(975.80,67.80) rotate(90)" text-anchor="middle" textLength="20.2" lengthAdjust="spacingAndGlyphs" font-family="'Liberation Sans', sans-serif" font-weight="bold" font-size="9.4" fill="#FFFFFF" stroke="#FFFFFF" stroke-width="0.15">8035</text>
<rect x="975.65" y="80.25" width="3.5" height="3.5" fill="#FFFFFF"/>
<text transform="translate(975.80,149.40) rotate(90)" text-anchor="middle" textLength="20.2" lengthAdjust="spacingAndGlyphs" font-family="'Liberation Sans', sans-serif" font-weight="bold" font-size="9.4" fill="#FFFFFF" stroke="#FFFFFF" stroke-width="0.15">8040</text>
<rect x="975.65" y="162.35" width="3.5" height="3.5" fill="#FFFFFF"/>
<text transform="translate(987.90,67.80) rotate(90)" text-anchor="middle" textLength="20.2" lengthAdjust="spacingAndGlyphs" font-family="'Liberation Sans', sans-serif" font-weight="bold" font-size="9.4" fill="#FFFFFF" stroke="#FFFFFF" stroke-width="0.15">8033</text>
<rect x="987.75" y="80.25" width="3.5" height="3.5" fill="#FFFFFF"/>
<text transform="translate(987.90,149.40) rotate(90)" text-anchor="middle" textLength="20.2" lengthAdjust="spacingAndGlyphs" font-family="'Liberation Sans', sans-serif" font-weight="bold" font-size="9.4" fill="#FFFFFF" stroke="#FFFFFF" stroke-width="0.15">8038</text>
<rect x="987.75" y="162.35" width="3.5" height="3.5" fill="#FFFFFF"/>
<text transform="translate(999.90,67.80) rotate(90)" text-anchor="middle" textLength="20.2" lengthAdjust="spacingAndGlyphs" font-family="'Liberation Sans', sans-serif" font-weight="bold" font-size="9.4" fill="#FFFFFF" stroke="#FFFFFF" stroke-width="0.15">8031</text>
<rect x="999.75" y="80.25" width="3.5" height="3.5" fill="#FFFFFF"/>
<text transform="translate(999.90,149.40) rotate(90)" text-anchor="middle" textLength="20.2" lengthAdjust="spacingAndGlyphs" font-family="'Liberation Sans', sans-serif" font-weight="bold" font-size="9.4" fill="#FFFFFF" stroke="#FFFFFF" stroke-width="0.15">8036</text>
<rect x="999.75" y="162.35" width="3.5" height="3.5" fill="#FFFFFF"/>
<text transform="translate(1011.95,67.80) rotate(90)" text-anchor="middle" textLength="20.2" lengthAdjust="spacingAndGlyphs" font-family="'Liberation Sans', sans-serif" font-weight="bold" font-size="9.4" fill="#FFFFFF" stroke="#FFFFFF" stroke-width="0.15">8029</text>
<rect x="1011.80" y="80.25" width="3.5" height="3.5" fill="#FFFFFF"/>
<text transform="translate(1011.95,149.40) rotate(90)" text-anchor="middle" textLength="20.2" lengthAdjust="spacingAndGlyphs" font-family="'Liberation Sans', sans-serif" font-weight="bold" font-size="9.4" fill="#FFFFFF" stroke="#FFFFFF" stroke-width="0.15">8034</text>
<rect x="1011.80" y="162.35" width="3.5" height="3.5" fill="#FFFFFF"/>
<text transform="translate(1024.10,67.80) rotate(90)" text-anchor="middle" textLength="20.2" lengthAdjust="spacingAndGlyphs" font-family="'Liberation Sans', sans-serif" font-weight="bold" font-size="9.4" fill="#0B1A2E" stroke="#0B1A2E" stroke-width="0.3">8027</text>
<rect x="1023.95" y="80.25" width="3.5" height="3.5" fill="#FFFFFF"/>
<text transform="translate(1024.10,149.40) rotate(90)" text-anchor="middle" textLength="20.2" lengthAdjust="spacingAndGlyphs" font-family="'Liberation Sans', sans-serif" font-weight="bold" font-size="9.4" fill="#0B1A2E" stroke="#0B1A2E" stroke-width="0.3">8032</text>
<rect x="1023.95" y="162.35" width="3.5" height="3.5" fill="#FFFFFF"/>
<text transform="translate(1036.30,67.80) rotate(90)" text-anchor="middle" textLength="20.2" lengthAdjust="spacingAndGlyphs" font-family="'Liberation Sans', sans-serif" font-weight="bold" font-size="9.4" fill="#0B1A2E" stroke="#0B1A2E" stroke-width="0.3">8025</text>
<rect x="1036.15" y="80.25" width="3.5" height="3.5" fill="#FFFFFF"/>
<text transform="translate(1036.30,149.40) rotate(90)" text-anchor="middle" textLength="20.2" lengthAdjust="spacingAndGlyphs" font-family="'Liberation Sans', sans-serif" font-weight="bold" font-size="9.4" fill="#0B1A2E" stroke="#0B1A2E" stroke-width="0.3">8028</text>
<rect x="1036.15" y="162.35" width="3.5" height="3.5" fill="#FFFFFF"/>
<text transform="translate(1048.45,67.80) rotate(90)" text-anchor="middle" textLength="20.2" lengthAdjust="spacingAndGlyphs" font-family="'Liberation Sans', sans-serif" font-weight="bold" font-size="9.4" fill="#0B1A2E" stroke="#0B1A2E" stroke-width="0.3">8023</text>
<rect x="1048.30" y="80.25" width="3.5" height="3.5" fill="#FFFFFF"/>
<text transform="translate(1048.45,149.40) rotate(90)" text-anchor="middle" textLength="20.2" lengthAdjust="spacingAndGlyphs" font-family="'Liberation Sans', sans-serif" font-weight="bold" font-size="9.4" fill="#0B1A2E" stroke="#0B1A2E" stroke-width="0.3">8026</text>
<rect x="1048.30" y="162.35" width="3.5" height="3.5" fill="#FFFFFF"/>
<text transform="translate(1060.60,67.80) rotate(90)" text-anchor="middle" textLength="20.2" lengthAdjust="spacingAndGlyphs" font-family="'Liberation Sans', sans-serif" font-weight="bold" font-size="9.4" fill="#0B1A2E" stroke="#0B1A2E" stroke-width="0.3">8021</text>
<rect x="1060.45" y="80.25" width="3.5" height="3.5" fill="#FFFFFF"/>
<text transform="translate(1060.60,149.40) rotate(90)" text-anchor="middle" textLength="20.2" lengthAdjust="spacingAndGlyphs" font-family="'Liberation Sans', sans-serif" font-weight="bold" font-size="9.4" fill="#0B1A2E" stroke="#0B1A2E" stroke-width="0.3">8022</text>
<rect x="1060.45" y="162.35" width="3.5" height="3.5" fill="#FFFFFF"/>
<text transform="translate(1072.80,67.80) rotate(90)" text-anchor="middle" textLength="20.2" lengthAdjust="spacingAndGlyphs" font-family="'Liberation Sans', sans-serif" font-weight="bold" font-size="9.4" fill="#0B1A2E" stroke="#0B1A2E" stroke-width="0.3">8019</text>
<rect x="1072.65" y="80.25" width="3.5" height="3.5" fill="#FFFFFF"/>
<text transform="translate(1072.80,149.40) rotate(90)" text-anchor="middle" textLength="20.2" lengthAdjust="spacingAndGlyphs" font-family="'Liberation Sans', sans-serif" font-weight="bold" font-size="9.4" fill="#0B1A2E" stroke="#0B1A2E" stroke-width="0.3">8018</text>
<rect x="1072.65" y="162.35" width="3.5" height="3.5" fill="#FFFFFF"/>
<text transform="translate(1085.00,67.80) rotate(90)" text-anchor="middle" textLength="20.2" lengthAdjust="spacingAndGlyphs" font-family="'Liberation Sans', sans-serif" font-weight="bold" font-size="9.4" fill="#0B1A2E" stroke="#0B1A2E" stroke-width="0.3">8017</text>
<rect x="1084.85" y="80.25" width="3.5" height="3.5" fill="#FFFFFF"/>
<text transform="translate(1085.00,149.40) rotate(90)" text-anchor="middle" textLength="20.2" lengthAdjust="spacingAndGlyphs" font-family="'Liberation Sans', sans-serif" font-weight="bold" font-size="9.4" fill="#0B1A2E" stroke="#0B1A2E" stroke-width="0.3">8014</text>
<rect x="1084.85" y="162.35" width="3.5" height="3.5" fill="#FFFFFF"/>
<text transform="translate(1097.15,67.80) rotate(90)" text-anchor="middle" textLength="20.2" lengthAdjust="spacingAndGlyphs" font-family="'Liberation Sans', sans-serif" font-weight="bold" font-size="9.4" fill="#0B1A2E" stroke="#0B1A2E" stroke-width="0.3">8015</text>
<rect x="1097.00" y="80.25" width="3.5" height="3.5" fill="#FFFFFF"/>
<text transform="translate(1097.15,149.40) rotate(90)" text-anchor="middle" textLength="20.2" lengthAdjust="spacingAndGlyphs" font-family="'Liberation Sans', sans-serif" font-weight="bold" font-size="9.4" fill="#0B1A2E" stroke="#0B1A2E" stroke-width="0.3">8012</text>
<rect x="1097.00" y="162.35" width="3.5" height="3.5" fill="#FFFFFF"/>
<text transform="translate(1109.30,67.80) rotate(90)" text-anchor="middle" textLength="20.2" lengthAdjust="spacingAndGlyphs" font-family="'Liberation Sans', sans-serif" font-weight="bold" font-size="9.4" fill="#0B1A2E" stroke="#0B1A2E" stroke-width="0.3">8011</text>
<rect x="1109.15" y="80.25" width="3.5" height="3.5" fill="#FFFFFF"/>
<text transform="translate(1109.30,149.40) rotate(90)" text-anchor="middle" textLength="20.2" lengthAdjust="spacingAndGlyphs" font-family="'Liberation Sans', sans-serif" font-weight="bold" font-size="9.4" fill="#0B1A2E" stroke="#0B1A2E" stroke-width="0.3">8010</text>
<rect x="1109.15" y="162.35" width="3.5" height="3.5" fill="#FFFFFF"/>
<text transform="translate(1121.40,67.80) rotate(90)" text-anchor="middle" textLength="20.2" lengthAdjust="spacingAndGlyphs" font-family="'Liberation Sans', sans-serif" font-weight="bold" font-size="9.4" fill="#0B1A2E" stroke="#0B1A2E" stroke-width="0.3">8009</text>
<rect x="1121.25" y="80.25" width="3.5" height="3.5" fill="#FFFFFF"/>
<text transform="translate(1121.40,149.40) rotate(90)" text-anchor="middle" textLength="20.2" lengthAdjust="spacingAndGlyphs" font-family="'Liberation Sans', sans-serif" font-weight="bold" font-size="9.4" fill="#0B1A2E" stroke="#0B1A2E" stroke-width="0.3">8008</text>
<rect x="1121.25" y="162.35" width="3.5" height="3.5" fill="#FFFFFF"/>
<text transform="translate(1133.75,67.80) rotate(90)" text-anchor="middle" textLength="20.2" lengthAdjust="spacingAndGlyphs" font-family="'Liberation Sans', sans-serif" font-weight="bold" font-size="9.4" fill="#FFFFFF" stroke="#FFFFFF" stroke-width="0.15">8005</text>
<rect x="1133.10" y="79.95" width="3.1" height="3.1" fill="#FFFFFF"/>
<path d="M1133.65,84.40 l2,2 m0,-2 l-2,2" stroke="#E8EEF8" stroke-width="0.7" fill="none"/>
<text transform="translate(1133.75,149.40) rotate(90)" text-anchor="middle" textLength="20.2" lengthAdjust="spacingAndGlyphs" font-family="'Liberation Sans', sans-serif" font-weight="bold" font-size="9.4" fill="#FFFFFF" stroke="#FFFFFF" stroke-width="0.15">8004</text>
<rect x="1133.10" y="161.85" width="3.1" height="3.1" fill="#FFFFFF"/>
<path d="M1133.65,166.30 l2,2 m0,-2 l-2,2" stroke="#E8EEF8" stroke-width="0.7" fill="none"/>
<path d="M112.70,84.70 H117.90 M115.30,83.70 V86.70" stroke="#1B1B1B" stroke-width="0.6" fill="none" opacity="0.85"/>
<path d="M185.30,84.70 H190.50 M187.90,83.70 V86.70" stroke="#1B1B1B" stroke-width="0.6" fill="none" opacity="0.85"/>
<path d="M235.30,84.70 H240.50 M237.90,83.70 V86.70" stroke="#1B1B1B" stroke-width="0.6" fill="none" opacity="0.85"/>
<path d="M332.70,84.70 H337.90 M335.30,83.70 V86.70" stroke="#1B1B1B" stroke-width="0.6" fill="none" opacity="0.85"/>
<path d="M406.90,84.70 H412.10 M409.50,83.70 V86.70" stroke="#1B1B1B" stroke-width="0.6" fill="none" opacity="0.85"/>
<path d="M503.80,79.20 H509.00 M506.40,78.20 V81.20" stroke="#1B1B1B" stroke-width="0.6" fill="none" opacity="0.85"/>
<path d="M564.50,84.70 H569.70 M567.10,83.70 V86.70" stroke="#1B1B1B" stroke-width="0.6" fill="none" opacity="0.85"/>
<path d="M638.90,84.70 H644.10 M641.50,83.70 V86.70" stroke="#1B1B1B" stroke-width="0.6" fill="none" opacity="0.85"/>
<path d="M736.20,84.70 H741.40 M738.80,83.70 V86.70" stroke="#1B1B1B" stroke-width="0.6" fill="none" opacity="0.85"/>
<path d="M834.50,84.70 H839.70 M837.10,83.70 V86.70" stroke="#1B1B1B" stroke-width="0.6" fill="none" opacity="0.85"/>
<path d="M919.60,79.20 H924.80 M922.20,78.20 V81.20" stroke="#1B1B1B" stroke-width="0.6" fill="none" opacity="0.85"/>
<path d="M1018.00,84.70 H1023.20 M1020.60,83.70 V86.70" stroke="#1B1B1B" stroke-width="0.6" fill="none" opacity="0.85"/>
<path d="M1115.40,84.70 H1120.60 M1118.00,83.70 V86.70" stroke="#1B1B1B" stroke-width="0.6" fill="none" opacity="0.85"/>
<path d="M112.70,143.00 H117.90 M115.30,142.00 V145.00" stroke="#1B1B1B" stroke-width="0.6" fill="none" opacity="0.85"/>
<path d="M185.30,143.00 H190.50 M187.90,142.00 V145.00" stroke="#1B1B1B" stroke-width="0.6" fill="none" opacity="0.85"/>
<path d="M235.30,143.00 H240.50 M237.90,142.00 V145.00" stroke="#1B1B1B" stroke-width="0.6" fill="none" opacity="0.85"/>
<path d="M332.70,143.00 H337.90 M335.30,142.00 V145.00" stroke="#1B1B1B" stroke-width="0.6" fill="none" opacity="0.85"/>
<path d="M406.90,143.00 H412.10 M409.50,142.00 V145.00" stroke="#1B1B1B" stroke-width="0.6" fill="none" opacity="0.85"/>
<path d="M503.80,148.50 H509.00 M506.40,147.50 V150.50" stroke="#1B1B1B" stroke-width="0.6" fill="none" opacity="0.85"/>
<path d="M564.50,143.00 H569.70 M567.10,142.00 V145.00" stroke="#1B1B1B" stroke-width="0.6" fill="none" opacity="0.85"/>
<path d="M638.90,143.00 H644.10 M641.50,142.00 V145.00" stroke="#1B1B1B" stroke-width="0.6" fill="none" opacity="0.85"/>
<path d="M736.20,143.00 H741.40 M738.80,142.00 V145.00" stroke="#1B1B1B" stroke-width="0.6" fill="none" opacity="0.85"/>
<path d="M834.50,143.00 H839.70 M837.10,142.00 V145.00" stroke="#1B1B1B" stroke-width="0.6" fill="none" opacity="0.85"/>
<path d="M919.60,148.50 H924.80 M922.20,147.50 V150.50" stroke="#1B1B1B" stroke-width="0.6" fill="none" opacity="0.85"/>
<path d="M1018.00,143.00 H1023.20 M1020.60,142.00 V145.00" stroke="#1B1B1B" stroke-width="0.6" fill="none" opacity="0.85"/>
<path d="M1115.40,143.00 H1120.60 M1118.00,142.00 V145.00" stroke="#1B1B1B" stroke-width="0.6" fill="none" opacity="0.85"/>
<text transform="translate(70.00,112.40) rotate(90)" text-anchor="middle" textLength="19.7" lengthAdjust="spacingAndGlyphs" font-family="'Liberation Sans', sans-serif" font-weight="bold" font-size="9.4" fill="#111111" stroke="#111111" stroke-width="0.3">8228</text>
<text transform="translate(86.95,112.40) rotate(90)" text-anchor="middle" textLength="19.7" lengthAdjust="spacingAndGlyphs" font-family="'Liberation Sans', sans-serif" font-weight="bold" font-size="9.4" fill="#111111" stroke="#111111" stroke-width="0.3">8226</text>
<text transform="translate(103.95,112.40) rotate(90)" text-anchor="middle" textLength="19.7" lengthAdjust="spacingAndGlyphs" font-family="'Liberation Sans', sans-serif" font-weight="bold" font-size="9.4" fill="#111111" stroke="#111111" stroke-width="0.3">8220</text>
<text transform="translate(120.75,112.40) rotate(90)" text-anchor="middle" textLength="19.7" lengthAdjust="spacingAndGlyphs" font-family="'Liberation Sans', sans-serif" font-weight="bold" font-size="9.4" fill="#111111" stroke="#111111" stroke-width="0.3">8216</text>
<text transform="translate(137.65,112.40) rotate(90)" text-anchor="middle" textLength="19.7" lengthAdjust="spacingAndGlyphs" font-family="'Liberation Sans', sans-serif" font-weight="bold" font-size="9.4" fill="#111111" stroke="#111111" stroke-width="0.3">8212</text>
<text transform="translate(154.55,112.40) rotate(90)" text-anchor="middle" textLength="19.7" lengthAdjust="spacingAndGlyphs" font-family="'Liberation Sans', sans-serif" font-weight="bold" font-size="9.4" fill="#111111" stroke="#111111" stroke-width="0.3">8206</text>
<text transform="translate(275.45,112.40) rotate(90)" text-anchor="middle" textLength="19.7" lengthAdjust="spacingAndGlyphs" font-family="'Liberation Sans', sans-serif" font-weight="bold" font-size="9.4" fill="#111111" stroke="#111111" stroke-width="0.3">8184</text>
<text transform="translate(291.70,112.40) rotate(90)" text-anchor="middle" textLength="19.7" lengthAdjust="spacingAndGlyphs" font-family="'Liberation Sans', sans-serif" font-weight="bold" font-size="9.4" fill="#111111" stroke="#111111" stroke-width="0.3">8178</text>
<text transform="translate(308.20,112.40) rotate(90)" text-anchor="middle" textLength="19.7" lengthAdjust="spacingAndGlyphs" font-family="'Liberation Sans', sans-serif" font-weight="bold" font-size="9.4" fill="#111111" stroke="#111111" stroke-width="0.3">8174</text>
<text transform="translate(324.55,112.40) rotate(90)" text-anchor="middle" textLength="19.7" lengthAdjust="spacingAndGlyphs" font-family="'Liberation Sans', sans-serif" font-weight="bold" font-size="9.4" fill="#111111" stroke="#111111" stroke-width="0.3">8170</text>
<text transform="translate(659.35,112.40) rotate(90)" text-anchor="middle" textLength="19.7" lengthAdjust="spacingAndGlyphs" font-family="'Liberation Sans', sans-serif" font-weight="bold" font-size="9.4" fill="#111111" stroke="#111111" stroke-width="0.3">8112</text>
<text transform="translate(675.80,112.40) rotate(90)" text-anchor="middle" textLength="19.7" lengthAdjust="spacingAndGlyphs" font-family="'Liberation Sans', sans-serif" font-weight="bold" font-size="9.4" fill="#111111" stroke="#111111" stroke-width="0.3">8108</text>
<text transform="translate(691.85,112.40) rotate(90)" text-anchor="middle" textLength="19.7" lengthAdjust="spacingAndGlyphs" font-family="'Liberation Sans', sans-serif" font-weight="bold" font-size="9.4" fill="#111111" stroke="#111111" stroke-width="0.3">8104</text>
<text transform="translate(707.95,112.40) rotate(90)" text-anchor="middle" textLength="19.7" lengthAdjust="spacingAndGlyphs" font-family="'Liberation Sans', sans-serif" font-weight="bold" font-size="9.4" fill="#111111" stroke="#111111" stroke-width="0.3">8098</text>
<text transform="translate(724.20,112.40) rotate(90)" text-anchor="middle" textLength="19.7" lengthAdjust="spacingAndGlyphs" font-family="'Liberation Sans', sans-serif" font-weight="bold" font-size="9.4" fill="#111111" stroke="#111111" stroke-width="0.3">8094</text>
<text transform="translate(740.15,112.40) rotate(90)" text-anchor="middle" textLength="19.7" lengthAdjust="spacingAndGlyphs" font-family="'Liberation Sans', sans-serif" font-weight="bold" font-size="9.4" fill="#111111" stroke="#111111" stroke-width="0.3">8090</text>
<text transform="translate(781.20,112.40) rotate(90)" text-anchor="middle" textLength="19.7" lengthAdjust="spacingAndGlyphs" font-family="'Liberation Sans', sans-serif" font-weight="bold" font-size="9.4" fill="#111111" stroke="#111111" stroke-width="0.3">8080</text>
<text transform="translate(798.25,112.40) rotate(90)" text-anchor="middle" textLength="19.7" lengthAdjust="spacingAndGlyphs" font-family="'Liberation Sans', sans-serif" font-weight="bold" font-size="9.4" fill="#111111" stroke="#111111" stroke-width="0.3">8076</text>
<text transform="translate(814.55,112.40) rotate(90)" text-anchor="middle" textLength="19.7" lengthAdjust="spacingAndGlyphs" font-family="'Liberation Sans', sans-serif" font-weight="bold" font-size="9.4" fill="#111111" stroke="#111111" stroke-width="0.3">8072</text>
<text transform="translate(832.55,112.40) rotate(90)" text-anchor="middle" textLength="19.7" lengthAdjust="spacingAndGlyphs" font-family="'Liberation Sans', sans-serif" font-weight="bold" font-size="9.4" fill="#111111" stroke="#111111" stroke-width="0.3">8066</text>
<text transform="translate(850.60,112.40) rotate(90)" text-anchor="middle" textLength="19.7" lengthAdjust="spacingAndGlyphs" font-family="'Liberation Sans', sans-serif" font-weight="bold" font-size="9.4" fill="#111111" stroke="#111111" stroke-width="0.3">8060</text>
<text transform="translate(1032.15,112.40) rotate(90)" text-anchor="middle" textLength="19.7" lengthAdjust="spacingAndGlyphs" font-family="'Liberation Sans', sans-serif" font-weight="bold" font-size="9.4" fill="#111111" stroke="#111111" stroke-width="0.3">8030</text>
<text transform="translate(1048.75,112.40) rotate(90)" text-anchor="middle" textLength="19.7" lengthAdjust="spacingAndGlyphs" font-family="'Liberation Sans', sans-serif" font-weight="bold" font-size="9.4" fill="#111111" stroke="#111111" stroke-width="0.3">8024</text>
<text transform="translate(1065.10,112.40) rotate(90)" text-anchor="middle" textLength="19.7" lengthAdjust="spacingAndGlyphs" font-family="'Liberation Sans', sans-serif" font-weight="bold" font-size="9.4" fill="#111111" stroke="#111111" stroke-width="0.3">8020</text>
<text transform="translate(1081.95,112.40) rotate(90)" text-anchor="middle" textLength="19.7" lengthAdjust="spacingAndGlyphs" font-family="'Liberation Sans', sans-serif" font-weight="bold" font-size="9.4" fill="#111111" stroke="#111111" stroke-width="0.3">8016</text>
<path d="M300.10,123.20 H305.30 M302.70,122.20 V125.20" stroke="#1B1B1B" stroke-width="0.6" fill="none" opacity="0.85"/>
<path d="M684.10,123.20 H689.30 M686.70,122.20 V125.20" stroke="#1B1B1B" stroke-width="0.6" fill="none" opacity="0.85"/>
<path d="M822.80,123.20 H828.00 M825.40,122.20 V125.20" stroke="#1B1B1B" stroke-width="0.6" fill="none" opacity="0.85"/>
<text x="1096.90" y="108.80" textLength="19.1" lengthAdjust="spacingAndGlyphs" font-family="'Liberation Sans', sans-serif" font-weight="bold" font-size="9.4" fill="#111111" stroke="#111111" stroke-width="0.3">8007</text>
<text x="1096.90" y="124.30" textLength="19.1" lengthAdjust="spacingAndGlyphs" font-family="'Liberation Sans', sans-serif" font-weight="bold" font-size="9.4" fill="#111111" stroke="#111111" stroke-width="0.3">8006</text>
<rect x="1119.20" y="104.80" width="3.4" height="3.4" fill="#000000"/>
<circle cx="1121.2" cy="120.8" r="1.8" fill="#FFFFFF"/>
<text x="1146.90" y="109.20" textLength="19.9" lengthAdjust="spacingAndGlyphs" font-family="'Liberation Sans', sans-serif" font-weight="bold" font-size="9.4" fill="#FFFFFF" stroke="#FFFFFF" stroke-width="0.15">8001</text>
<text x="1146.90" y="124.90" textLength="19.9" lengthAdjust="spacingAndGlyphs" font-family="'Liberation Sans', sans-serif" font-weight="bold" font-size="9.4" fill="#FFFFFF" stroke="#FFFFFF" stroke-width="0.15">8000</text>
<rect x="1170.80" y="104.90" width="3.2" height="3.2" fill="#FFFFFF"/>
<rect x="1170.80" y="120.20" width="3.2" height="3.2" fill="#FFFFFF"/>
<text transform="translate(1156.60,76.80) rotate(90)" text-anchor="middle" textLength="20.3" lengthAdjust="spacingAndGlyphs" font-family="'Liberation Sans', sans-serif" font-weight="bold" font-size="9.4" fill="#0E1A0E" stroke="#0E1A0E" stroke-width="0.3">8003</text>
<text transform="translate(1156.60,150.20) rotate(90)" text-anchor="middle" textLength="20.3" lengthAdjust="spacingAndGlyphs" font-family="'Liberation Sans', sans-serif" font-weight="bold" font-size="9.4" fill="#0E1A0E" stroke="#0E1A0E" stroke-width="0.3">8002</text>
<rect x="1149.05" y="71.85" width="3.5" height="3.5" fill="#000000"/>
<rect x="1149.05" y="145.05" width="3.5" height="3.5" fill="#000000"/>
<path d="M1149,77.6 L1153.2,79.7 L1149,81.8 Z M1149,150.8 L1153.2,152.9 L1149,155 Z" fill="#FFFFFF"/>
<text x="29.70" y="66.90" textLength="19.9" lengthAdjust="spacingAndGlyphs" font-family="'Liberation Sans', sans-serif" font-weight="bold" font-size="9.4" fill="#FFFFFF" stroke="#FFFFFF" stroke-width="0.15">8187</text>
<rect x="52.95" y="62.25" width="3.5" height="3.5" fill="#FFFFFF"/>
<text x="29.70" y="78.90" textLength="19.9" lengthAdjust="spacingAndGlyphs" font-family="'Liberation Sans', sans-serif" font-weight="bold" font-size="9.4" fill="#0B1A2E" stroke="#0B1A2E" stroke-width="0.3">8189</text>
<rect x="52.95" y="76.05" width="3.5" height="3.5" fill="#000000"/>
<text x="29.70" y="91.60" textLength="19.9" lengthAdjust="spacingAndGlyphs" font-family="'Liberation Sans', sans-serif" font-weight="bold" font-size="9.4" fill="#0B1A2E" stroke="#0B1A2E" stroke-width="0.3">8191</text>
<rect x="52.95" y="84.05" width="3.5" height="3.5" fill="#FFFFFF"/>
<text x="29.70" y="104.20" textLength="19.9" lengthAdjust="spacingAndGlyphs" font-family="'Liberation Sans', sans-serif" font-weight="bold" font-size="9.4" fill="#0B1A2E" stroke="#0B1A2E" stroke-width="0.3">8193</text>
<rect x="52.95" y="100.55" width="3.5" height="3.5" fill="#000000"/>
<text x="29.70" y="116.70" textLength="19.9" lengthAdjust="spacingAndGlyphs" font-family="'Liberation Sans', sans-serif" font-weight="bold" font-size="9.4" fill="#0B1A2E" stroke="#0B1A2E" stroke-width="0.3">8195</text>
<rect x="52.95" y="113.45" width="3.5" height="3.5" fill="#FFFFFF"/>
<text x="29.70" y="129.00" textLength="19.9" lengthAdjust="spacingAndGlyphs" font-family="'Liberation Sans', sans-serif" font-weight="bold" font-size="9.4" fill="#0B1A2E" stroke="#0B1A2E" stroke-width="0.3">8238</text>
<rect x="52.95" y="122.25" width="3.5" height="3.5" fill="#FFFFFF"/>
<text x="29.70" y="141.90" textLength="19.9" lengthAdjust="spacingAndGlyphs" font-family="'Liberation Sans', sans-serif" font-weight="bold" font-size="9.4" fill="#0B1A2E" stroke="#0B1A2E" stroke-width="0.3">8236</text>
<rect x="52.95" y="138.85" width="3.5" height="3.5" fill="#FFFFFF"/>
<text x="29.70" y="154.30" textLength="19.9" lengthAdjust="spacingAndGlyphs" font-family="'Liberation Sans', sans-serif" font-weight="bold" font-size="9.4" fill="#0B1A2E" stroke="#0B1A2E" stroke-width="0.3">8234</text>
<rect x="52.95" y="146.75" width="3.5" height="3.5" fill="#FFFFFF"/>
<text x="29.70" y="167.20" textLength="19.9" lengthAdjust="spacingAndGlyphs" font-family="'Liberation Sans', sans-serif" font-weight="bold" font-size="9.4" fill="#FFFFFF" stroke="#FFFFFF" stroke-width="0.15">8232</text>
<rect x="52.95" y="161.95" width="3.5" height="3.5" fill="#FFFFFF"/>
</g>
<defs><filter id="soft2" x="-2%" y="-2%" width="104%" height="104%" color-interpolation-filters="sRGB"><feGaussianBlur stdDeviation="0.3"/></filter></defs>
<g id="legend" filter="url(#soft2)">
<text x="32.8" y="223.9" textLength="97.0" lengthAdjust="spacingAndGlyphs" font-family="'Liberation Sans', sans-serif" font-weight="bold" font-size="16" fill="#000">Hutcategorie</text>
<text x="284.5" y="221.0" textLength="65.9" lengthAdjust="spacingAndGlyphs" font-family="'Liberation Sans', sans-serif" font-weight="bold" font-size="16" fill="#000">Legenda</text>
<rect x="31.1" y="234.1" width="38" height="19.7" fill="#9A7CBA"/>
<text x="50.2" y="248.1" text-anchor="middle" textLength="30.5" lengthAdjust="spacingAndGlyphs" font-family="'Liberation Sans', sans-serif" font-weight="bold" font-size="11.6" fill="#FFFFFF">10000</text>
<text x="81.9" y="250.8" textLength="91.7" lengthAdjust="spacingAndGlyphs" font-family="'Liberation Sans', sans-serif" font-weight="normal" font-size="16" fill="#101010">Themen suite</text>
<rect x="31.1" y="259.1" width="38" height="19.7" fill="#B05CA0"/>
<text x="50.2" y="273.1" text-anchor="middle" textLength="30.5" lengthAdjust="spacingAndGlyphs" font-family="'Liberation Sans', sans-serif" font-weight="bold" font-size="11.6" fill="#FFFFFF">14000</text>
<text x="81.9" y="275.7" textLength="125.2" lengthAdjust="spacingAndGlyphs" font-family="'Liberation Sans', sans-serif" font-weight="normal" font-size="16" fill="#101010">Hemel &amp; zee suite</text>
<rect x="31.1" y="284.1" width="38" height="19.7" fill="#EC97BF"/>
<text x="50.2" y="298.1" text-anchor="middle" textLength="30.5" lengthAdjust="spacingAndGlyphs" font-family="'Liberation Sans', sans-serif" font-weight="bold" font-size="11.6" fill="#1A1A1A">10105</text>
<text x="80.8" y="299.8" textLength="158.3" lengthAdjust="spacingAndGlyphs" font-family="'Liberation Sans', sans-serif" font-weight="normal" font-size="16" fill="#101010">Junior suite met balkon</text>
<rect x="31.1" y="309.1" width="38" height="19.7" fill="#B4DCCB"/>
<text x="50.2" y="323.1" text-anchor="middle" textLength="24.4" lengthAdjust="spacingAndGlyphs" font-family="'Liberation Sans', sans-serif" font-weight="bold" font-size="11.6" fill="#1A1A1A">6176</text>
<text x="81.9" y="324.8" textLength="95.0" lengthAdjust="spacingAndGlyphs" font-family="'Liberation Sans', sans-serif" font-weight="normal" font-size="16" fill="#101010">Diamant suite</text>
<rect x="31.1" y="334.1" width="38" height="19.7" fill="#7EBB42"/>
<text x="50.2" y="348.1" text-anchor="middle" textLength="24.4" lengthAdjust="spacingAndGlyphs" font-family="'Liberation Sans', sans-serif" font-weight="bold" font-size="11.6" fill="#1A1A1A">6005</text>
<text x="81.9" y="350.8" textLength="151.5" lengthAdjust="spacingAndGlyphs" font-family="'Liberation Sans', sans-serif" font-weight="normal" font-size="16" fill="#101010">Familiehut met balkon</text>
<rect x="31.1" y="359.1" width="38" height="19.7" fill="#A6D09E"/>
<text x="50.2" y="373.1" text-anchor="middle" textLength="24.4" lengthAdjust="spacingAndGlyphs" font-family="'Liberation Sans', sans-serif" font-weight="bold" font-size="11.6" fill="#1A1A1A">8002</text>
<text x="81.9" y="376.5" textLength="115.0" lengthAdjust="spacingAndGlyphs" font-family="'Liberation Sans', sans-serif" font-weight="normal" font-size="16" fill="#101010">Familiehut cat. A</text>
<rect x="31.1" y="384.1" width="38" height="19.7" fill="#60BA8C"/>
<text x="50.2" y="398.1" text-anchor="middle" textLength="24.4" lengthAdjust="spacingAndGlyphs" font-family="'Liberation Sans', sans-serif" font-weight="bold" font-size="11.6" fill="#FFFFFF">7000</text>
<text x="81.9" y="400.8" textLength="114.5" lengthAdjust="spacingAndGlyphs" font-family="'Liberation Sans', sans-serif" font-weight="normal" font-size="16" fill="#101010">Familiehut cat. B</text>
<rect x="31.1" y="409.1" width="38" height="19.7" fill="#9F94CB"/>
<text x="50.2" y="423.1" text-anchor="middle" textLength="24.4" lengthAdjust="spacingAndGlyphs" font-family="'Liberation Sans', sans-serif" font-weight="bold" font-size="11.6" fill="#FFFFFF">8187</text>
<text x="82.9" y="426.8" textLength="142.5" lengthAdjust="spacingAndGlyphs" font-family="'Liberation Sans', sans-serif" font-weight="normal" font-size="16" fill="#101010">Premium verandahut</text>
<rect x="31.1" y="434.1" width="38" height="19.7" fill="#D5E6F7"/>
<text x="50.2" y="448.1" text-anchor="middle" textLength="30.5" lengthAdjust="spacingAndGlyphs" font-family="'Liberation Sans', sans-serif" font-weight="bold" font-size="11.6" fill="#1A1A1A">11000</text>
<text x="82.9" y="449.8" textLength="128.3" lengthAdjust="spacingAndGlyphs" font-family="'Liberation Sans', sans-serif" font-weight="normal" font-size="16" fill="#101010">Spahut met balkon</text>
<rect x="31.1" y="459.1" width="38" height="19.7" fill="#90CDB6"/>
<text x="50.2" y="473.1" text-anchor="middle" textLength="24.4" lengthAdjust="spacingAndGlyphs" font-family="'Liberation Sans', sans-serif" font-weight="bold" font-size="11.6" fill="#1A1A1A">7201</text>
<text x="81.9" y="475.9" textLength="116.2" lengthAdjust="spacingAndGlyphs" font-family="'Liberation Sans', sans-serif" font-weight="normal" font-size="16" fill="#101010">Combi balkonhut</text>
<rect x="31.1" y="484.1" width="38" height="19.7" fill="#1F95CD"/>
<text x="50.2" y="498.1" text-anchor="middle" textLength="30.5" lengthAdjust="spacingAndGlyphs" font-family="'Liberation Sans', sans-serif" font-weight="bold" font-size="11.6" fill="#FFFFFF">10003</text>
<text x="84.0" y="500.8" textLength="111.0" lengthAdjust="spacingAndGlyphs" font-family="'Liberation Sans', sans-serif" font-weight="normal" font-size="16" fill="#101010">Balkonhut cat. A</text>
<rect x="31.1" y="509.1" width="38" height="19.7" fill="#6FC2EB"/>
<text x="50.2" y="523.1" text-anchor="middle" textLength="30.5" lengthAdjust="spacingAndGlyphs" font-family="'Liberation Sans', sans-serif" font-weight="bold" font-size="11.6" fill="#1A1A1A">11020</text>
<text x="84.0" y="523.4" textLength="110.5" lengthAdjust="spacingAndGlyphs" font-family="'Liberation Sans', sans-serif" font-weight="normal" font-size="16" fill="#101010">Balkonhut cat. B</text>
<rect x="31.1" y="534.1" width="38" height="19.7" fill="#C4D5ED"/>
<text x="50.2" y="548.1" text-anchor="middle" textLength="30.5" lengthAdjust="spacingAndGlyphs" font-family="'Liberation Sans', sans-serif" font-weight="bold" font-size="11.6" fill="#1A1A1A">11120</text>
<text x="84.0" y="548.6" textLength="111.5" lengthAdjust="spacingAndGlyphs" font-family="'Liberation Sans', sans-serif" font-weight="normal" font-size="16" fill="#101010">Balkonhut cat. C</text>
<rect x="31.1" y="559.1" width="38" height="19.7" fill="#1BA4A2"/>
<text x="50.2" y="573.1" text-anchor="middle" textLength="24.4" lengthAdjust="spacingAndGlyphs" font-family="'Liberation Sans', sans-serif" font-weight="bold" font-size="11.6" fill="#FFFFFF">8040</text>
<text x="84.0" y="574.7" textLength="111.5" lengthAdjust="spacingAndGlyphs" font-family="'Liberation Sans', sans-serif" font-weight="normal" font-size="16" fill="#101010">Balkonhut cat. D</text>
<rect x="31.1" y="584.1" width="38" height="19.7" fill="#91B9E3"/>
<text x="50.2" y="598.1" text-anchor="middle" textLength="24.4" lengthAdjust="spacingAndGlyphs" font-family="'Liberation Sans', sans-serif" font-weight="bold" font-size="11.6" fill="#1A1A1A">7040</text>
<text x="84.0" y="599.2" textLength="110.5" lengthAdjust="spacingAndGlyphs" font-family="'Liberation Sans', sans-serif" font-weight="normal" font-size="16" fill="#101010">Balkonhut cat. E</text>
<rect x="31.1" y="609.1" width="38" height="19.7" fill="#5CBDCC"/>
<text x="50.2" y="623.1" text-anchor="middle" textLength="24.4" lengthAdjust="spacingAndGlyphs" font-family="'Liberation Sans', sans-serif" font-weight="bold" font-size="11.6" fill="#1A1A1A">7020</text>
<text x="85.0" y="624.8" textLength="109.5" lengthAdjust="spacingAndGlyphs" font-family="'Liberation Sans', sans-serif" font-weight="normal" font-size="16" fill="#101010">Balkonhut cat. F</text>
<rect x="31.1" y="634.1" width="38" height="19.7" fill="#5974B2"/>
<text x="50.2" y="648.1" text-anchor="middle" textLength="24.4" lengthAdjust="spacingAndGlyphs" font-family="'Liberation Sans', sans-serif" font-weight="bold" font-size="11.6" fill="#FFFFFF">6010</text>
<text x="85.0" y="649.8" textLength="112.0" lengthAdjust="spacingAndGlyphs" font-family="'Liberation Sans', sans-serif" font-weight="normal" font-size="16" fill="#101010">Balkonhut cat. G</text>
<rect x="31.1" y="659.1" width="38" height="19.7" fill="#7488AD"/>
<text x="50.2" y="673.1" text-anchor="middle" textLength="24.4" lengthAdjust="spacingAndGlyphs" font-family="'Liberation Sans', sans-serif" font-weight="bold" font-size="11.6" fill="#FFFFFF">6068</text>
<text x="85.0" y="675.5" textLength="111.0" lengthAdjust="spacingAndGlyphs" font-family="'Liberation Sans', sans-serif" font-weight="normal" font-size="16" fill="#101010">Balkonhut cat. H</text>
<rect x="31.1" y="684.1" width="38" height="19.7" fill="#BAA780"/>
<text x="50.2" y="698.1" text-anchor="middle" textLength="24.4" lengthAdjust="spacingAndGlyphs" font-family="'Liberation Sans', sans-serif" font-weight="bold" font-size="11.6" fill="#FFFFFF">8000</text>
<text x="85.7" y="700.8" textLength="107.0" lengthAdjust="spacingAndGlyphs" font-family="'Liberation Sans', sans-serif" font-weight="normal" font-size="16" fill="#101010">Buitenhut cat. A</text>
<rect x="31.1" y="709.1" width="38" height="19.7" fill="#C58D65"/>
<text x="50.2" y="723.1" text-anchor="middle" textLength="24.4" lengthAdjust="spacingAndGlyphs" font-family="'Liberation Sans', sans-serif" font-weight="bold" font-size="11.6" fill="#1A1A1A">3125</text>
<text x="85.7" y="724.7" textLength="106.5" lengthAdjust="spacingAndGlyphs" font-family="'Liberation Sans', sans-serif" font-weight="normal" font-size="16" fill="#101010">Buitenhut cat. B</text>
<rect x="31.1" y="734.1" width="38" height="19.7" fill="#F5E7D5"/>
<text x="50.2" y="748.1" text-anchor="middle" textLength="30.5" lengthAdjust="spacingAndGlyphs" font-family="'Liberation Sans', sans-serif" font-weight="bold" font-size="11.6" fill="#1A1A1A">11060</text>
<text x="85.7" y="750.7" textLength="111.5" lengthAdjust="spacingAndGlyphs" font-family="'Liberation Sans', sans-serif" font-weight="normal" font-size="16" fill="#101010">Binnenhut cat. A</text>
<rect x="31.1" y="759.1" width="38" height="19.7" fill="#FDE724"/>
<text x="50.2" y="773.1" text-anchor="middle" textLength="24.4" lengthAdjust="spacingAndGlyphs" font-family="'Liberation Sans', sans-serif" font-weight="bold" font-size="11.6" fill="#1A1A1A">8220</text>
<text x="84.6" y="775.9" textLength="111.0" lengthAdjust="spacingAndGlyphs" font-family="'Liberation Sans', sans-serif" font-weight="normal" font-size="16" fill="#101010">Binnenhut cat. B</text>
<rect x="31.1" y="784.1" width="38" height="19.7" fill="#FABB22"/>
<text x="50.2" y="798.1" text-anchor="middle" textLength="24.4" lengthAdjust="spacingAndGlyphs" font-family="'Liberation Sans', sans-serif" font-weight="bold" font-size="11.6" fill="#1A1A1A">6001</text>
<text x="85.7" y="799.8" textLength="112.0" lengthAdjust="spacingAndGlyphs" font-family="'Liberation Sans', sans-serif" font-weight="normal" font-size="16" fill="#101010">Binnenhut cat. C</text>
<rect x="282.1" y="235.4" width="49.9" height="24.7" fill="#C9A294"/>
<text x="355.7" y="253.1" textLength="74.1" lengthAdjust="spacingAndGlyphs" font-family="'Liberation Sans', sans-serif" font-weight="normal" font-size="16" fill="#101010">Restaurant</text>
<rect x="282.1" y="266.1" width="49.9" height="24.7" fill="#DDE89C"/>
<text x="355.7" y="288.5" textLength="24.5" lengthAdjust="spacingAndGlyphs" font-family="'Liberation Sans', sans-serif" font-weight="normal" font-size="16" fill="#101010">Bar</text>
<rect x="282.1" y="297.8" width="49.9" height="24.7" fill="#A8D2BC"/>
<text x="354.8" y="318.9" textLength="82.3" lengthAdjust="spacingAndGlyphs" font-family="'Liberation Sans', sans-serif" font-weight="normal" font-size="16" fill="#101010">Spa &amp; sport</text>
<rect x="282.1" y="329.1" width="49.9" height="24.7" fill="#F7EC9C"/>
<text x="354.8" y="349.6" textLength="52.2" lengthAdjust="spacingAndGlyphs" font-family="'Liberation Sans', sans-serif" font-weight="normal" font-size="16" fill="#101010">Theater</text>
<rect x="282.1" y="360.2" width="49.9" height="24.7" fill="#E0E0E1"/>
<text x="354.8" y="382.6" textLength="122.6" lengthAdjust="spacingAndGlyphs" font-family="'Liberation Sans', sans-serif" font-weight="normal" font-size="16" fill="#101010">Conferentieruimte</text>
<rect x="282.1" y="391.2" width="49.9" height="24.7" fill="#A5A6AB"/>
<text x="356.6" y="411.6" textLength="52.2" lengthAdjust="spacingAndGlyphs" font-family="'Liberation Sans', sans-serif" font-weight="normal" font-size="16" fill="#101010">Keuken</text>
<text x="561.2" y="256.1" textLength="217.0" lengthAdjust="spacingAndGlyphs" font-family="'Liberation Sans', sans-serif" font-weight="normal" font-size="16" fill="#101010">toegankelijk voor mindervaliden</text>
<text x="563.0" y="290.5" textLength="113.4" lengthAdjust="spacingAndGlyphs" font-family="'Liberation Sans', sans-serif" font-weight="normal" font-size="16" fill="#101010">Verbindingsdeur</text>
<text x="563.0" y="320.4" textLength="74.0" lengthAdjust="spacingAndGlyphs" font-family="'Liberation Sans', sans-serif" font-weight="normal" font-size="16" fill="#101010">Slaapbank</text>
<text x="563.0" y="351.5" textLength="110.0" lengthAdjust="spacingAndGlyphs" font-family="'Liberation Sans', sans-serif" font-weight="normal" font-size="16" fill="#101010">Dubbelbedbank</text>
<text x="563.9" y="384.8" textLength="95.8" lengthAdjust="spacingAndGlyphs" font-family="'Liberation Sans', sans-serif" font-weight="normal" font-size="16" fill="#101010">1 pullman-bed</text>
<text x="562.4" y="415.9" textLength="123.3" lengthAdjust="spacingAndGlyphs" font-family="'Liberation Sans', sans-serif" font-weight="normal" font-size="16" fill="#101010">2 pullman-bedden</text>
<text x="563.7" y="442.0" textLength="127.2" lengthAdjust="spacingAndGlyphs" font-family="'Liberation Sans', sans-serif" font-weight="normal" font-size="16" fill="#101010">Hut met Patrijsport</text>
<text x="561.8" y="470.8" textLength="171.3" lengthAdjust="spacingAndGlyphs" font-family="'Liberation Sans', sans-serif" font-weight="normal" font-size="16" fill="#101010">Hut met belemmerd zicht</text>
<text x="561.8" y="503.9" textLength="274.4" lengthAdjust="spacingAndGlyphs" font-family="'Liberation Sans', sans-serif" font-weight="normal" font-size="16" fill="#101010">Bedden kunnen samengevoegd worden</text>
<text x="562.8" y="538.9" textLength="203.6" lengthAdjust="spacingAndGlyphs" font-family="'Liberation Sans', sans-serif" font-weight="normal" font-size="16" fill="#101010">Bedden kunnen niet uit elkaar</text>
<text x="567.4" y="573.4" textLength="85.3" lengthAdjust="spacingAndGlyphs" font-family="'Liberation Sans', sans-serif" font-weight="normal" font-size="16" fill="#101010">Trappenhuis</text>
<rect x="631.4" y="304.6" width="3.6" height="0.9" fill="#555"/>
<rect x="631.0" y="293.3" width="1.2" height="0.9" fill="#888"/>
<rect x="576.4" y="522.6" width="1.1" height="1" fill="#777"/>
<g fill="none" stroke="#231F20" stroke-linecap="round" stroke-linejoin="round">
<circle cx="515.6" cy="241.8" r="2.75" fill="#231F20" stroke="none"/>
<path d="M515.9,244 L516.8,250.9 H525.1 L527.5,256.4 L531.3,255.0" stroke-width="2.4"/>
<path d="M516.6,246.8 H522.8" stroke-width="2.1"/>
<path d="M514.2,249.0 A5.7,5.7 0 1 0 523.9,254.9" stroke-width="2.2"/>
</g>
<rect x="511.6" y="271.0" width="4.2" height="22.3" fill="#231F20"/>
<rect x="512.6" y="307.8" width="13.4" height="11.9" fill="#F1EFEF" stroke="#3A3536" stroke-width="2"/>
<rect x="511.6" y="338.4" width="15.4" height="13.6" fill="#231F20"/>
<path d="M512.0,383.3 L519.5,369.6 L527.0,383.3 Z" fill="#8C3245"/>
<ellipse cx="519.4" cy="408.6" rx="7.9" ry="7.3" fill="#231F20"/>
<path d="M512.2,438.4 H525.4 M518.8,431.8 V444.8" stroke="#231F20" stroke-width="2.7" fill="none"/>
<path d="M513.9,466.3 L523.7,474.2 M523.7,466.3 L513.9,474.2" stroke="#3B3A3C" stroke-width="5.9" stroke-linecap="round" fill="none"/>
<path d="M513.9,466.3 L523.7,474.2 M523.7,466.3 L513.9,474.2" stroke="#FFFFFF" stroke-width="2.1" stroke-linecap="round" fill="none"/>
<rect x="513.0" y="494.2" width="12.8" height="11.6" fill="#FFFFFF" stroke="#BC4A5C" stroke-width="3"/>
<rect x="511.6" y="525.3" width="15.6" height="14.6" fill="#E2283E"/>
<rect x="509.4" y="558.6" width="22.2" height="21.8" fill="#FFFFFF" stroke="#1E1E28" stroke-width="1"/>
<text x="520.6" y="575.2" text-anchor="middle" font-family="'Liberation Sans', sans-serif" font-weight="bold" font-size="14.5" fill="#2C3A5A">A</text>
<rect x="537.4" y="558.6" width="22.2" height="21.8" fill="#FFFFFF" stroke="#1E1E28" stroke-width="1"/>
<text x="548.6" y="575.2" text-anchor="middle" font-family="'Liberation Sans', sans-serif" font-weight="bold" font-size="14.5" fill="#2C3A5A">B</text>
</g>
</svg>
</body>
</html>
